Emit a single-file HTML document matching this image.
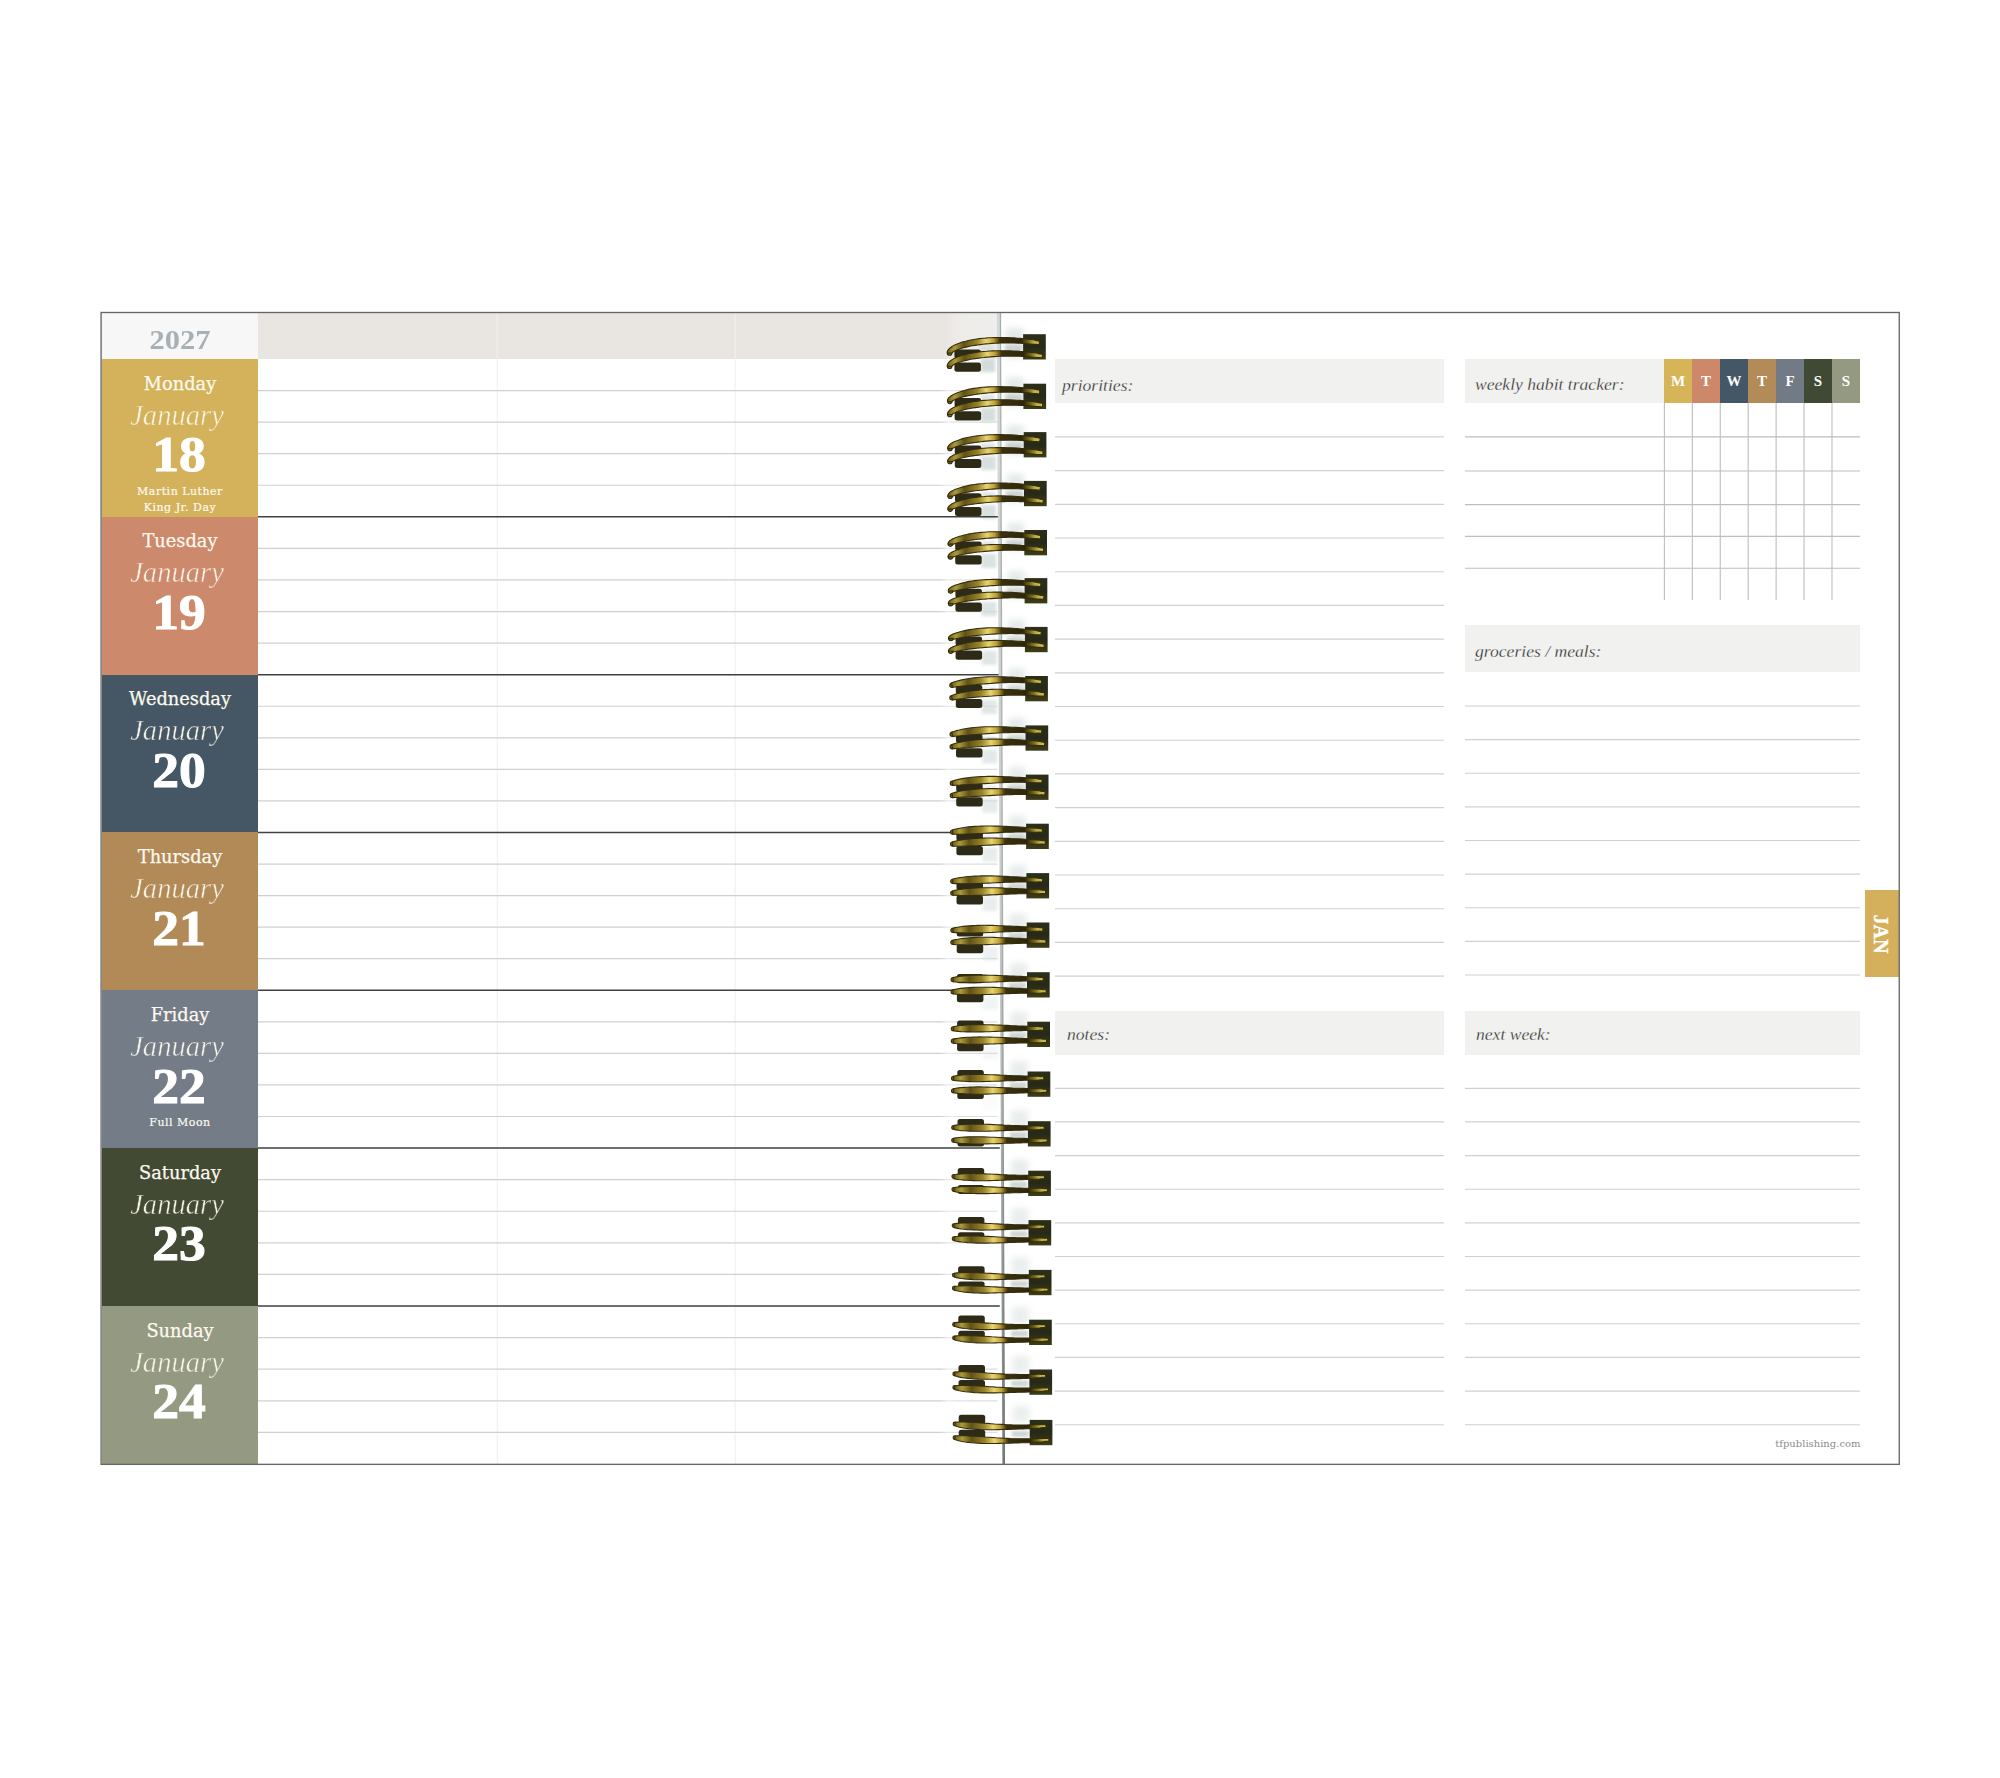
<!DOCTYPE html><html lang="en"><head><meta charset="utf-8"><title>Weekly planner spread - January 2027</title><style>
*{margin:0;padding:0;box-sizing:border-box}
html,body{width:2000px;height:1778px;background:#fff;overflow:hidden}
body{position:relative;font-family:"Liberation Serif","DejaVu Serif",serif}
#stage{position:absolute;left:0;top:0;width:2000px;height:1778px;overflow:hidden;background:#fff}
.abs{position:absolute}
.blk{position:absolute;left:102px;width:155.5px}
.t{position:absolute;left:0;width:156px;text-align:center;white-space:nowrap;color:#fff}
.dn{font-family:"DejaVu Serif","Liberation Serif",serif;font-size:17.8px;line-height:20px;color:#fdf9ee;-webkit-text-stroke:.25px #fdf9ee}
.mo{font-family:"Liberation Serif",serif;font-style:italic;font-size:28.6px;line-height:30px;color:#fdf9ee;opacity:.95}
.nu{font-family:"Liberation Serif",serif;font-weight:bold;font-size:51px;line-height:50px;-webkit-text-stroke:1px #fff}
.ho{font-family:"DejaVu Serif","Liberation Serif",serif;font-size:11px;line-height:12px;letter-spacing:.5px;color:#fdf9ee;-webkit-text-stroke:.2px #fdf9ee}
.hd{position:absolute;background:#f1f1ef}
.sc{position:absolute;font-family:"Liberation Serif",serif;font-style:italic;font-size:17.6px;line-height:20px;color:#1c1c1c;-webkit-text-stroke:.3px #f1f1ef;white-space:nowrap}
.hc{position:absolute;top:359px;height:44px;width:28px;color:#fff;font-weight:bold;font-size:15px;line-height:44px;text-align:center;font-family:"Liberation Serif",serif}
</style></head><body><div id="stage">
<div class="abs" style="left:102px;top:313px;width:155.5px;height:46px;background:#f7f7f7"></div>
<div class="abs" style="left:257.5px;top:313px;width:739px;height:46px;background:linear-gradient(90deg,#e9e6e1 0,#e9e6e1 93%,#eeece9 94.6%,#f0eeec 100%)"></div>
<div class="abs t" style="left:102px;top:323.5px;width:156px;font-weight:bold;font-size:26.8px;line-height:32px;color:#a7b1b5;transform:scaleX(1.14)">2027</div>
<div class="blk" style="top:359px;height:158px;background:#d4b25b">
<div class="t dn" style="top:14.6px">Monday</div>
<div class="t mo" style="left:-3px;top:41.6px;-webkit-text-stroke:.5px #d4b25b">January</div>
<div class="t nu" style="left:-1px;transform:scaleX(1.05);top:70.3px">18</div>
<div class="t ho" style="top:127.0px">Martin Luther</div>
<div class="t ho" style="top:143.0px">King Jr. Day</div>
</div>
<div class="blk" style="top:517px;height:158px;background:#cc896c">
<div class="t dn" style="top:14.4px">Tuesday</div>
<div class="t mo" style="left:-3px;top:41.4px;-webkit-text-stroke:.5px #cc896c">January</div>
<div class="t nu" style="left:-1px;transform:scaleX(1.05);top:70.1px">19</div>
</div>
<div class="blk" style="top:675px;height:157px;background:#455764">
<div class="t dn" style="top:14.3px">Wednesday</div>
<div class="t mo" style="left:-3px;top:41.3px;-webkit-text-stroke:.5px #455764">January</div>
<div class="t nu" style="left:-1px;transform:scaleX(1.05);top:70.0px">20</div>
</div>
<div class="blk" style="top:832px;height:158px;background:#b28a58">
<div class="t dn" style="top:15.1px">Thursday</div>
<div class="t mo" style="left:-3px;top:42.1px;-webkit-text-stroke:.5px #b28a58">January</div>
<div class="t nu" style="left:-1px;transform:scaleX(1.05);top:70.8px">21</div>
</div>
<div class="blk" style="top:990px;height:158px;background:#747c87">
<div class="t dn" style="top:14.8px">Friday</div>
<div class="t mo" style="left:-3px;top:41.8px;-webkit-text-stroke:.5px #747c87">January</div>
<div class="t nu" style="left:-1px;transform:scaleX(1.05);top:70.5px">22</div>
<div class="t ho" style="top:127.2px">Full Moon</div>
</div>
<div class="blk" style="top:1148px;height:158px;background:#424a34">
<div class="t dn" style="top:14.7px">Saturday</div>
<div class="t mo" style="left:-3px;top:41.7px;-webkit-text-stroke:.5px #424a34">January</div>
<div class="t nu" style="left:-1px;transform:scaleX(1.05);top:70.4px">23</div>
</div>
<div class="blk" style="top:1306px;height:158px;background:#949a82">
<div class="t dn" style="top:14.6px">Sunday</div>
<div class="t mo" style="left:-3px;top:41.6px;-webkit-text-stroke:.5px #949a82">January</div>
<div class="t nu" style="left:-1px;transform:scaleX(1.05);top:70.3px">24</div>
</div>
<div class="hd" style="left:1055px;top:359px;width:389px;height:44px"></div>
<div class="hd" style="left:1465px;top:359px;width:199px;height:44px"></div>
<div class="hd" style="left:1465px;top:625px;width:395px;height:47px"></div>
<div class="hd" style="left:1055px;top:1011px;width:389px;height:44px"></div>
<div class="hd" style="left:1465px;top:1011px;width:395px;height:44px"></div>
<div class="sc" style="left:1062px;top:375px">priorities:</div>
<div class="sc" style="left:1475px;top:374px">weekly habit tracker:</div>
<div class="sc" style="left:1475px;top:641px">groceries / meals:</div>
<div class="sc" style="left:1067px;top:1024px">notes:</div>
<div class="sc" style="left:1476px;top:1024px">next week:</div>
<div class="hc" style="left:1664px;background:#d6b458">M</div>
<div class="hc" style="left:1692px;background:#cd886a">T</div>
<div class="hc" style="left:1720px;background:#445766">W</div>
<div class="hc" style="left:1748px;background:#b38b58">T</div>
<div class="hc" style="left:1776px;background:#717a85">F</div>
<div class="hc" style="left:1804px;background:#404933">S</div>
<div class="hc" style="left:1832px;background:#949a82">S</div>
<div class="abs" style="left:1865px;top:890px;width:34px;height:87px;background:#d4b05c"></div>
<div class="abs" style="left:1839px;top:921.5px;width:84px;height:24px;line-height:24px;text-align:center;color:#fff;font-weight:bold;font-size:20px;-webkit-text-stroke:.3px #fff;transform:rotate(90deg);transform-origin:50% 50%">JAN</div>
<div class="abs" style="left:1700px;top:1437px;width:160.5px;text-align:right;font-family:'DejaVu Serif','Liberation Serif',serif;font-size:10px;line-height:14px;color:#8c8c8c">tfpublishing.com</div>
<svg class="abs" style="left:0;top:0" width="2000" height="1778" viewBox="0 0 2000 1778">
<defs>
<linearGradient id="gw" x1="0" y1="0" x2="1" y2="0">
<stop offset="0" stop-color="#6a5c1a"/><stop offset=".08" stop-color="#ad9a3a"/><stop offset=".18" stop-color="#5f5217"/>
<stop offset=".32" stop-color="#98832a"/><stop offset=".42" stop-color="#e8d570"/><stop offset=".5" stop-color="#bd9f35"/>
<stop offset=".57" stop-color="#3a310e"/><stop offset=".8" stop-color="#2c2609"/><stop offset=".88" stop-color="#78691c"/><stop offset=".94" stop-color="#bfad45"/><stop offset="1" stop-color="#d2c158"/>
</linearGradient>
<linearGradient id="gl" x1="0" y1="0" x2="1" y2="0"><stop offset="0" stop-color="#85751f"/><stop offset=".15" stop-color="#c3b044"/><stop offset=".3" stop-color="#8d7c24"/><stop offset=".55" stop-color="#a8952f"/><stop offset=".72" stop-color="#f0de78"/><stop offset=".88" stop-color="#c9aa3a"/><stop offset="1" stop-color="#5a4d16"/></linearGradient>
<linearGradient id="gs" x1="0" y1="0" x2="0" y2="1"><stop offset="0" stop-color="#2c301a"/><stop offset=".5" stop-color="#262917"/><stop offset="1" stop-color="#3d3d17"/></linearGradient>
<linearGradient id="fade" x1="0" y1="0" x2="1" y2="0"><stop offset="0" stop-color="#fff" stop-opacity="0"/><stop offset=".14" stop-color="#fff" stop-opacity=".55"/><stop offset=".3" stop-color="#fff" stop-opacity=".35"/><stop offset="1" stop-color="#fff" stop-opacity=".3"/></linearGradient>
<linearGradient id="cl1" x1="0" y1="0" x2="0" y2="1"><stop offset="0" stop-color="#d5dad9"/><stop offset=".5" stop-color="#c6cdcb"/><stop offset=".7" stop-color="#adb4b2"/><stop offset=".85" stop-color="#919795"/><stop offset="1" stop-color="#787e7c"/></linearGradient>
<linearGradient id="cl2" x1="0" y1="0" x2="0" y2="1"><stop offset="0" stop-color="#a6aeab"/><stop offset=".5" stop-color="#aab2af"/><stop offset=".8" stop-color="#878d8b"/><stop offset="1" stop-color="#6f7573"/></linearGradient>
<filter id="bl" x="-30%" y="-30%" width="160%" height="160%"><feGaussianBlur stdDeviation="1.6"/></filter>
<filter id="bl2" x="-30%" y="-30%" width="160%" height="160%"><feGaussianBlur stdDeviation="3"/></filter>
</defs>
<line x1="497.2" y1="313" x2="497.2" y2="1464" stroke="#f0f0f1" stroke-width="1.1"/>
<line x1="735.2" y1="313" x2="735.2" y2="1464" stroke="#f0f0f1" stroke-width="1.1"/>
<line x1="258" y1="390.56" x2="997.5" y2="390.56" stroke="#cfd0d3" stroke-width="1.2"/>
<line x1="258" y1="422.12" x2="997.5" y2="422.12" stroke="#cfd0d3" stroke-width="1.2"/>
<line x1="258" y1="453.68" x2="997.5" y2="453.68" stroke="#cfd0d3" stroke-width="1.2"/>
<line x1="258" y1="485.24" x2="997.5" y2="485.24" stroke="#cfd0d3" stroke-width="1.2"/>
<line x1="258" y1="548.38" x2="997.5" y2="548.38" stroke="#cfd0d3" stroke-width="1.2"/>
<line x1="258" y1="579.96" x2="997.5" y2="579.96" stroke="#cfd0d3" stroke-width="1.2"/>
<line x1="258" y1="611.54" x2="997.5" y2="611.54" stroke="#cfd0d3" stroke-width="1.2"/>
<line x1="258" y1="643.12" x2="997.5" y2="643.12" stroke="#cfd0d3" stroke-width="1.2"/>
<line x1="258" y1="706.26" x2="997.5" y2="706.26" stroke="#cfd0d3" stroke-width="1.2"/>
<line x1="258" y1="737.82" x2="997.5" y2="737.82" stroke="#cfd0d3" stroke-width="1.2"/>
<line x1="258" y1="769.38" x2="997.5" y2="769.38" stroke="#cfd0d3" stroke-width="1.2"/>
<line x1="258" y1="800.94" x2="997.5" y2="800.94" stroke="#cfd0d3" stroke-width="1.2"/>
<line x1="258" y1="864.04" x2="997.5" y2="864.04" stroke="#cfd0d3" stroke-width="1.2"/>
<line x1="258" y1="895.58" x2="997.5" y2="895.58" stroke="#cfd0d3" stroke-width="1.2"/>
<line x1="258" y1="927.12" x2="997.5" y2="927.12" stroke="#cfd0d3" stroke-width="1.2"/>
<line x1="258" y1="958.66" x2="997.5" y2="958.66" stroke="#cfd0d3" stroke-width="1.2"/>
<line x1="258" y1="1021.78" x2="997.5" y2="1021.78" stroke="#cfd0d3" stroke-width="1.2"/>
<line x1="258" y1="1053.36" x2="997.5" y2="1053.36" stroke="#cfd0d3" stroke-width="1.2"/>
<line x1="258" y1="1084.94" x2="997.5" y2="1084.94" stroke="#cfd0d3" stroke-width="1.2"/>
<line x1="258" y1="1116.52" x2="997.5" y2="1116.52" stroke="#cfd0d3" stroke-width="1.2"/>
<line x1="258" y1="1179.68" x2="997.5" y2="1179.68" stroke="#cfd0d3" stroke-width="1.2"/>
<line x1="258" y1="1211.26" x2="997.5" y2="1211.26" stroke="#cfd0d3" stroke-width="1.2"/>
<line x1="258" y1="1242.84" x2="997.5" y2="1242.84" stroke="#cfd0d3" stroke-width="1.2"/>
<line x1="258" y1="1274.42" x2="997.5" y2="1274.42" stroke="#cfd0d3" stroke-width="1.2"/>
<line x1="258" y1="1337.60" x2="997.5" y2="1337.60" stroke="#cfd0d3" stroke-width="1.2"/>
<line x1="258" y1="1369.20" x2="997.5" y2="1369.20" stroke="#cfd0d3" stroke-width="1.2"/>
<line x1="258" y1="1400.80" x2="997.5" y2="1400.80" stroke="#cfd0d3" stroke-width="1.2"/>
<line x1="258" y1="1432.40" x2="997.5" y2="1432.40" stroke="#cfd0d3" stroke-width="1.2"/>
<rect x="940" y="360" width="59" height="1103" fill="url(#fade)"/>
<line x1="1055" y1="436.90" x2="1444" y2="436.90" stroke="#cfd0d3" stroke-width="1.15"/>
<line x1="1055" y1="470.60" x2="1444" y2="470.60" stroke="#cfd0d3" stroke-width="1.15"/>
<line x1="1055" y1="504.30" x2="1444" y2="504.30" stroke="#cfd0d3" stroke-width="1.15"/>
<line x1="1055" y1="538.00" x2="1444" y2="538.00" stroke="#cfd0d3" stroke-width="1.15"/>
<line x1="1055" y1="571.70" x2="1444" y2="571.70" stroke="#cfd0d3" stroke-width="1.15"/>
<line x1="1055" y1="605.40" x2="1444" y2="605.40" stroke="#cfd0d3" stroke-width="1.15"/>
<line x1="1055" y1="639.10" x2="1444" y2="639.10" stroke="#cfd0d3" stroke-width="1.15"/>
<line x1="1055" y1="672.80" x2="1444" y2="672.80" stroke="#cfd0d3" stroke-width="1.15"/>
<line x1="1055" y1="706.50" x2="1444" y2="706.50" stroke="#cfd0d3" stroke-width="1.15"/>
<line x1="1055" y1="740.20" x2="1444" y2="740.20" stroke="#cfd0d3" stroke-width="1.15"/>
<line x1="1055" y1="773.90" x2="1444" y2="773.90" stroke="#cfd0d3" stroke-width="1.15"/>
<line x1="1055" y1="807.60" x2="1444" y2="807.60" stroke="#cfd0d3" stroke-width="1.15"/>
<line x1="1055" y1="841.30" x2="1444" y2="841.30" stroke="#cfd0d3" stroke-width="1.15"/>
<line x1="1055" y1="875.00" x2="1444" y2="875.00" stroke="#cfd0d3" stroke-width="1.15"/>
<line x1="1055" y1="908.70" x2="1444" y2="908.70" stroke="#cfd0d3" stroke-width="1.15"/>
<line x1="1055" y1="942.40" x2="1444" y2="942.40" stroke="#cfd0d3" stroke-width="1.15"/>
<line x1="1055" y1="976.10" x2="1444" y2="976.10" stroke="#cfd0d3" stroke-width="1.15"/>
<line x1="1055" y1="1088.30" x2="1444" y2="1088.30" stroke="#cfd0d3" stroke-width="1.15"/>
<line x1="1465" y1="1088.30" x2="1860" y2="1088.30" stroke="#cfd0d3" stroke-width="1.15"/>
<line x1="1055" y1="1121.94" x2="1444" y2="1121.94" stroke="#cfd0d3" stroke-width="1.15"/>
<line x1="1465" y1="1121.94" x2="1860" y2="1121.94" stroke="#cfd0d3" stroke-width="1.15"/>
<line x1="1055" y1="1155.58" x2="1444" y2="1155.58" stroke="#cfd0d3" stroke-width="1.15"/>
<line x1="1465" y1="1155.58" x2="1860" y2="1155.58" stroke="#cfd0d3" stroke-width="1.15"/>
<line x1="1055" y1="1189.22" x2="1444" y2="1189.22" stroke="#cfd0d3" stroke-width="1.15"/>
<line x1="1465" y1="1189.22" x2="1860" y2="1189.22" stroke="#cfd0d3" stroke-width="1.15"/>
<line x1="1055" y1="1222.86" x2="1444" y2="1222.86" stroke="#cfd0d3" stroke-width="1.15"/>
<line x1="1465" y1="1222.86" x2="1860" y2="1222.86" stroke="#cfd0d3" stroke-width="1.15"/>
<line x1="1055" y1="1256.50" x2="1444" y2="1256.50" stroke="#cfd0d3" stroke-width="1.15"/>
<line x1="1465" y1="1256.50" x2="1860" y2="1256.50" stroke="#cfd0d3" stroke-width="1.15"/>
<line x1="1055" y1="1290.14" x2="1444" y2="1290.14" stroke="#cfd0d3" stroke-width="1.15"/>
<line x1="1465" y1="1290.14" x2="1860" y2="1290.14" stroke="#cfd0d3" stroke-width="1.15"/>
<line x1="1055" y1="1323.78" x2="1444" y2="1323.78" stroke="#cfd0d3" stroke-width="1.15"/>
<line x1="1465" y1="1323.78" x2="1860" y2="1323.78" stroke="#cfd0d3" stroke-width="1.15"/>
<line x1="1055" y1="1357.42" x2="1444" y2="1357.42" stroke="#cfd0d3" stroke-width="1.15"/>
<line x1="1465" y1="1357.42" x2="1860" y2="1357.42" stroke="#cfd0d3" stroke-width="1.15"/>
<line x1="1055" y1="1391.06" x2="1444" y2="1391.06" stroke="#cfd0d3" stroke-width="1.15"/>
<line x1="1465" y1="1391.06" x2="1860" y2="1391.06" stroke="#cfd0d3" stroke-width="1.15"/>
<line x1="1055" y1="1424.70" x2="1444" y2="1424.70" stroke="#cfd0d3" stroke-width="1.15"/>
<line x1="1465" y1="1424.70" x2="1860" y2="1424.70" stroke="#cfd0d3" stroke-width="1.15"/>
<line x1="1465" y1="706.00" x2="1860" y2="706.00" stroke="#cfd0d3" stroke-width="1.15"/>
<line x1="1465" y1="739.62" x2="1860" y2="739.62" stroke="#cfd0d3" stroke-width="1.15"/>
<line x1="1465" y1="773.24" x2="1860" y2="773.24" stroke="#cfd0d3" stroke-width="1.15"/>
<line x1="1465" y1="806.86" x2="1860" y2="806.86" stroke="#cfd0d3" stroke-width="1.15"/>
<line x1="1465" y1="840.48" x2="1860" y2="840.48" stroke="#cfd0d3" stroke-width="1.15"/>
<line x1="1465" y1="874.10" x2="1860" y2="874.10" stroke="#cfd0d3" stroke-width="1.15"/>
<line x1="1465" y1="907.72" x2="1860" y2="907.72" stroke="#cfd0d3" stroke-width="1.15"/>
<line x1="1465" y1="941.34" x2="1860" y2="941.34" stroke="#cfd0d3" stroke-width="1.15"/>
<line x1="1465" y1="974.96" x2="1860" y2="974.96" stroke="#cfd0d3" stroke-width="1.15"/>
<line x1="1465" y1="436.90" x2="1860" y2="436.90" stroke="#bcbec2" stroke-width="1.1"/>
<line x1="1465" y1="471.00" x2="1860" y2="471.00" stroke="#bcbec2" stroke-width="1.1"/>
<line x1="1465" y1="504.60" x2="1860" y2="504.60" stroke="#bcbec2" stroke-width="1.1"/>
<line x1="1465" y1="536.40" x2="1860" y2="536.40" stroke="#bcbec2" stroke-width="1.1"/>
<line x1="1465" y1="568.30" x2="1860" y2="568.30" stroke="#bcbec2" stroke-width="1.1"/>
<line x1="1664.40" y1="403" x2="1664.40" y2="600" stroke="#bcbec2" stroke-width="1.1"/>
<line x1="1692.33" y1="403" x2="1692.33" y2="600" stroke="#bcbec2" stroke-width="1.1"/>
<line x1="1720.26" y1="403" x2="1720.26" y2="600" stroke="#bcbec2" stroke-width="1.1"/>
<line x1="1748.19" y1="403" x2="1748.19" y2="600" stroke="#bcbec2" stroke-width="1.1"/>
<line x1="1776.12" y1="403" x2="1776.12" y2="600" stroke="#bcbec2" stroke-width="1.1"/>
<line x1="1804.05" y1="403" x2="1804.05" y2="600" stroke="#bcbec2" stroke-width="1.1"/>
<line x1="1831.98" y1="403" x2="1831.98" y2="600" stroke="#bcbec2" stroke-width="1.1"/>
<rect x="980.4" y="358.2" width="15" height="14" fill="#cfd9d8" filter="url(#bl)" opacity="0.90"/>
<rect x="980.4" y="345.2" width="14" height="7" fill="#d5dddc" filter="url(#bl)" opacity="0.81"/>
<rect x="1006.1" y="328.2" width="17" height="30" fill="#dfe4e4" filter="url(#bl2)" opacity="0.85"/>
<rect x="1005.1" y="345.2" width="17" height="6" fill="#c6cecb" filter="url(#bl)" opacity=".85"/>
<rect x="980.6" y="407.7" width="15" height="14" fill="#cfd9d8" filter="url(#bl)" opacity="0.86"/>
<rect x="980.6" y="394.7" width="14" height="7" fill="#d5dddc" filter="url(#bl)" opacity="0.77"/>
<rect x="1006.4" y="377.5" width="17" height="29" fill="#dfe4e4" filter="url(#bl2)" opacity="0.84"/>
<rect x="1005.4" y="394.7" width="17" height="6" fill="#c6cecb" filter="url(#bl)" opacity=".85"/>
<rect x="980.8" y="456.1" width="15" height="14" fill="#cfd9d8" filter="url(#bl)" opacity="0.82"/>
<rect x="980.8" y="443.1" width="14" height="7" fill="#d5dddc" filter="url(#bl)" opacity="0.74"/>
<rect x="1006.7" y="425.7" width="17" height="29" fill="#dfe4e4" filter="url(#bl2)" opacity="0.83"/>
<rect x="1005.7" y="443.1" width="17" height="6" fill="#c6cecb" filter="url(#bl)" opacity=".85"/>
<rect x="981.0" y="504.9" width="15" height="14" fill="#cfd9d8" filter="url(#bl)" opacity="0.78"/>
<rect x="981.0" y="491.9" width="14" height="7" fill="#d5dddc" filter="url(#bl)" opacity="0.70"/>
<rect x="1007.0" y="474.4" width="17" height="28" fill="#dfe4e4" filter="url(#bl2)" opacity="0.82"/>
<rect x="1006.0" y="491.9" width="17" height="6" fill="#c6cecb" filter="url(#bl)" opacity=".85"/>
<rect x="981.2" y="554.0" width="15" height="14" fill="#cfd9d8" filter="url(#bl)" opacity="0.74"/>
<rect x="981.2" y="541.0" width="14" height="7" fill="#d5dddc" filter="url(#bl)" opacity="0.66"/>
<rect x="1007.3" y="523.3" width="17" height="27" fill="#dfe4e4" filter="url(#bl2)" opacity="0.80"/>
<rect x="1006.3" y="541.0" width="17" height="6" fill="#c6cecb" filter="url(#bl)" opacity=".85"/>
<rect x="981.4" y="602.1" width="15" height="14" fill="#cfd9d8" filter="url(#bl)" opacity="0.70"/>
<rect x="981.4" y="589.1" width="14" height="7" fill="#d5dddc" filter="url(#bl)" opacity="0.63"/>
<rect x="1007.6" y="571.2" width="17" height="27" fill="#dfe4e4" filter="url(#bl2)" opacity="0.79"/>
<rect x="1006.6" y="589.1" width="17" height="6" fill="#c6cecb" filter="url(#bl)" opacity=".85"/>
<rect x="981.6" y="650.9" width="15" height="14" fill="#cfd9d8" filter="url(#bl)" opacity="0.65"/>
<rect x="981.6" y="637.9" width="14" height="7" fill="#d5dddc" filter="url(#bl)" opacity="0.59"/>
<rect x="1007.9" y="619.8" width="17" height="26" fill="#dfe4e4" filter="url(#bl2)" opacity="0.78"/>
<rect x="1006.9" y="637.9" width="17" height="6" fill="#c6cecb" filter="url(#bl)" opacity=".85"/>
<rect x="981.8" y="700.0" width="15" height="14" fill="#cfd9d8" filter="url(#bl)" opacity="0.61"/>
<rect x="981.8" y="687.0" width="14" height="7" fill="#d5dddc" filter="url(#bl)" opacity="0.55"/>
<rect x="1008.2" y="668.7" width="17" height="26" fill="#dfe4e4" filter="url(#bl2)" opacity="0.77"/>
<rect x="1007.2" y="687.0" width="17" height="6" fill="#c6cecb" filter="url(#bl)" opacity=".85"/>
<rect x="982.0" y="749.4" width="15" height="14" fill="#cfd9d8" filter="url(#bl)" opacity="0.57"/>
<rect x="982.0" y="736.4" width="14" height="7" fill="#d5dddc" filter="url(#bl)" opacity="0.52"/>
<rect x="1008.5" y="717.9" width="17" height="25" fill="#dfe4e4" filter="url(#bl2)" opacity="0.76"/>
<rect x="1007.5" y="736.4" width="17" height="6" fill="#c6cecb" filter="url(#bl)" opacity=".85"/>
<rect x="982.2" y="798.6" width="15" height="14" fill="#cfd9d8" filter="url(#bl)" opacity="0.53"/>
<rect x="982.2" y="785.6" width="14" height="7" fill="#d5dddc" filter="url(#bl)" opacity="0.48"/>
<rect x="1008.8" y="767.0" width="17" height="24" fill="#dfe4e4" filter="url(#bl2)" opacity="0.75"/>
<rect x="1007.8" y="785.6" width="17" height="6" fill="#c6cecb" filter="url(#bl)" opacity=".85"/>
<rect x="982.4" y="847.7" width="15" height="14" fill="#cfd9d8" filter="url(#bl)" opacity="0.49"/>
<rect x="982.4" y="834.7" width="14" height="7" fill="#d5dddc" filter="url(#bl)" opacity="0.44"/>
<rect x="1009.1" y="815.9" width="17" height="24" fill="#dfe4e4" filter="url(#bl2)" opacity="0.74"/>
<rect x="1008.1" y="834.7" width="17" height="6" fill="#c6cecb" filter="url(#bl)" opacity=".85"/>
<rect x="982.5" y="897.1" width="15" height="14" fill="#cfd9d8" filter="url(#bl)" opacity="0.45"/>
<rect x="982.5" y="884.1" width="14" height="7" fill="#d5dddc" filter="url(#bl)" opacity="0.41"/>
<rect x="1009.4" y="865.1" width="17" height="23" fill="#dfe4e4" filter="url(#bl2)" opacity="0.72"/>
<rect x="1008.4" y="884.1" width="17" height="6" fill="#c6cecb" filter="url(#bl)" opacity=".85"/>
<rect x="982.7" y="946.5" width="15" height="14" fill="#cfd9d8" filter="url(#bl)" opacity="0.36"/>
<rect x="982.7" y="933.5" width="14" height="7" fill="#d5dddc" filter="url(#bl)" opacity="0.32"/>
<rect x="1009.7" y="914.0" width="17" height="22" fill="#dfe4e4" filter="url(#bl2)" opacity="0.71"/>
<rect x="1008.7" y="933.5" width="17" height="6" fill="#c6cecb" filter="url(#bl)" opacity=".85"/>
<rect x="982.9" y="996.2" width="15" height="14" fill="#cfd9d8" filter="url(#bl)" opacity="0.27"/>
<rect x="982.9" y="983.2" width="14" height="7" fill="#d5dddc" filter="url(#bl)" opacity="0.24"/>
<rect x="1010.0" y="963.1" width="17" height="22" fill="#dfe4e4" filter="url(#bl2)" opacity="0.70"/>
<rect x="1009.0" y="983.2" width="17" height="6" fill="#c6cecb" filter="url(#bl)" opacity=".85"/>
<rect x="983.1" y="1045.7" width="15" height="14" fill="#cfd9d8" filter="url(#bl)" opacity="0.18"/>
<rect x="983.1" y="1032.7" width="14" height="7" fill="#d5dddc" filter="url(#bl)" opacity="0.16"/>
<rect x="1010.3" y="1012.1" width="17" height="21" fill="#dfe4e4" filter="url(#bl2)" opacity="0.69"/>
<rect x="1009.3" y="1032.7" width="17" height="6" fill="#c6cecb" filter="url(#bl)" opacity=".85"/>
<rect x="983.3" y="1095.5" width="15" height="14" fill="#cfd9d8" filter="url(#bl)" opacity="0.09"/>
<rect x="983.3" y="1082.5" width="14" height="7" fill="#d5dddc" filter="url(#bl)" opacity="0.08"/>
<rect x="1010.6" y="1061.3" width="17" height="20" fill="#dfe4e4" filter="url(#bl2)" opacity="0.68"/>
<rect x="1009.6" y="1082.5" width="17" height="6" fill="#c6cecb" filter="url(#bl)" opacity=".85"/>
<rect x="1010.9" y="1110.5" width="17" height="20" fill="#dfe4e4" filter="url(#bl2)" opacity="0.67"/>
<rect x="1009.9" y="1132.2" width="17" height="6" fill="#c6cecb" filter="url(#bl)" opacity=".85"/>
<rect x="1011.2" y="1159.4" width="17" height="19" fill="#dfe4e4" filter="url(#bl2)" opacity="0.66"/>
<rect x="1010.2" y="1181.7" width="17" height="6" fill="#c6cecb" filter="url(#bl)" opacity=".85"/>
<rect x="1011.5" y="1208.3" width="17" height="19" fill="#dfe4e4" filter="url(#bl2)" opacity="0.65"/>
<rect x="1010.5" y="1231.1" width="17" height="6" fill="#c6cecb" filter="url(#bl)" opacity=".85"/>
<rect x="1011.8" y="1257.5" width="17" height="18" fill="#dfe4e4" filter="url(#bl2)" opacity="0.63"/>
<rect x="1010.8" y="1280.9" width="17" height="6" fill="#c6cecb" filter="url(#bl)" opacity=".85"/>
<rect x="1012.1" y="1306.8" width="17" height="17" fill="#dfe4e4" filter="url(#bl2)" opacity="0.62"/>
<rect x="1011.1" y="1330.7" width="17" height="6" fill="#c6cecb" filter="url(#bl)" opacity=".85"/>
<rect x="1012.4" y="1356.0" width="17" height="17" fill="#dfe4e4" filter="url(#bl2)" opacity="0.61"/>
<rect x="1011.4" y="1380.5" width="17" height="6" fill="#c6cecb" filter="url(#bl)" opacity=".85"/>
<rect x="1012.7" y="1405.9" width="17" height="16" fill="#dfe4e4" filter="url(#bl2)" opacity="0.60"/>
<rect x="1011.7" y="1430.9" width="17" height="6" fill="#c6cecb" filter="url(#bl)" opacity=".85"/>
<line x1="258" y1="516.80" x2="999.8" y2="516.80" stroke="#414141" stroke-width="1.5"/>
<line x1="258" y1="674.70" x2="999.8" y2="674.70" stroke="#414141" stroke-width="1.5"/>
<line x1="258" y1="832.50" x2="999.8" y2="832.50" stroke="#414141" stroke-width="1.5"/>
<line x1="258" y1="990.20" x2="999.8" y2="990.20" stroke="#414141" stroke-width="1.5"/>
<line x1="258" y1="1148.10" x2="999.8" y2="1148.10" stroke="#414141" stroke-width="1.5"/>
<line x1="258" y1="1306.00" x2="999.8" y2="1306.00" stroke="#414141" stroke-width="1.5"/>
<polygon points="996.8,313 1000.2,313 1004.6,1464 1002.4,1464" fill="url(#cl1)"/>
<polygon points="999.8,313 1001.1,313 1005.0,1464 1003.6,1464" fill="url(#cl2)"/>
<rect x="1023.1" y="334.2" width="22.7" height="25.3" fill="url(#gs)"/>
<rect x="954.4" y="349.4" width="26.5" height="9.2" rx="2.5" fill="#2e2a18"/>
<circle cx="949.6" cy="353.0" r="2.30" fill="#75661e" stroke="#352d0c" stroke-width="1.1"/>
<path d="M1039.6,341.1 L1036.5,340.7 L1033.5,339.8 L1030.4,339.4 L1027.2,339.1 L1024.0,338.7 L1020.7,338.4 L1017.5,338.2 L1014.3,337.9 L1011.0,337.8 L1007.7,337.6 L1004.5,337.5 L1001.3,337.5 L998.0,337.5 L994.9,337.6 L991.7,337.7 L988.6,337.8 L985.5,338.1 L982.5,338.3 L979.5,338.6 L976.6,339.0 L973.8,339.5 L971.0,340.0 L968.3,340.5 L965.8,341.2 L963.3,341.8 L960.9,342.6 L958.6,343.4 L956.4,344.2 L955.8,344.5 L955.2,344.8 L954.6,345.1 L954.1,345.3 L953.6,345.6 L953.1,345.9 L952.6,346.1 L952.1,346.4 L951.7,346.7 L951.3,347.0 L950.9,347.3 L950.5,347.5 L950.1,347.8 L949.8,348.1 L949.5,348.4 L949.2,348.7 L948.9,349.0 L948.6,349.3 L948.3,349.7 L948.1,350.0 L947.9,350.4 L947.7,350.7 L947.6,351.1 L947.4,351.5 L947.3,351.9 L947.3,352.4 L947.3,352.8 L947.3,353.1 L951.9,352.9 L951.9,352.8 L951.9,352.8 L951.9,352.9 L951.9,352.9 L952.0,352.9 L952.0,352.9 L952.0,352.8 L952.1,352.7 L952.2,352.6 L952.3,352.5 L952.4,352.4 L952.6,352.3 L952.7,352.1 L952.9,352.0 L953.2,351.8 L953.4,351.7 L953.7,351.5 L954.0,351.3 L954.3,351.1 L954.7,350.9 L955.1,350.7 L955.5,350.5 L955.9,350.4 L956.4,350.2 L956.8,350.0 L957.3,349.8 L957.9,349.5 L958.4,349.4 L960.4,348.7 L962.5,348.0 L964.8,347.4 L967.1,346.9 L969.6,346.3 L972.1,345.8 L974.8,345.4 L977.5,345.0 L980.3,344.6 L983.1,344.2 L986.0,343.9 L989.0,343.7 L992.0,343.4 L995.1,343.3 L998.2,343.1 L1001.3,343.0 L1004.5,342.9 L1007.7,342.9 L1010.8,342.9 L1014.0,343.0 L1017.2,343.1 L1020.4,343.3 L1023.6,343.5 L1026.7,343.7 L1029.8,344.0 L1032.9,344.4 L1036.0,344.4 L1039.0,344.9Z" fill="url(#gw)" stroke="#352d0c" stroke-width="1.1" stroke-linejoin="round"/>
<rect x="954.4" y="362.6" width="26.5" height="9.2" rx="2.5" fill="#2e2a18"/>
<circle cx="949.6" cy="366.2" r="2.30" fill="#75661e" stroke="#352d0c" stroke-width="1.1"/>
<path d="M1042.6,354.3 L1039.5,353.9 L1036.5,353.0 L1033.3,352.6 L1030.0,352.3 L1026.7,351.9 L1023.4,351.6 L1020.0,351.4 L1016.7,351.1 L1013.3,351.0 L1009.9,350.8 L1006.5,350.8 L1003.1,350.7 L999.7,350.7 L996.4,350.8 L993.1,350.9 L989.8,351.0 L986.6,351.3 L983.4,351.5 L980.3,351.8 L977.2,352.2 L974.3,352.7 L971.4,353.2 L968.6,353.7 L965.9,354.4 L963.4,355.0 L960.9,355.8 L958.6,356.6 L956.4,357.4 L955.8,357.7 L955.2,358.0 L954.6,358.3 L954.1,358.5 L953.6,358.8 L953.1,359.1 L952.6,359.4 L952.1,359.6 L951.7,359.9 L951.3,360.2 L950.9,360.5 L950.5,360.7 L950.1,361.0 L949.8,361.3 L949.5,361.6 L949.2,361.9 L948.9,362.2 L948.6,362.5 L948.3,362.9 L948.1,363.2 L947.9,363.6 L947.7,363.9 L947.6,364.3 L947.4,364.7 L947.3,365.1 L947.3,365.6 L947.3,366.0 L947.3,366.3 L951.9,366.1 L951.9,366.0 L951.9,366.0 L951.9,366.1 L951.9,366.1 L952.0,366.1 L952.0,366.1 L952.0,366.0 L952.1,365.9 L952.2,365.8 L952.3,365.7 L952.4,365.6 L952.6,365.5 L952.7,365.3 L952.9,365.2 L953.2,365.0 L953.4,364.9 L953.7,364.7 L954.0,364.5 L954.3,364.3 L954.7,364.1 L955.1,363.9 L955.5,363.7 L955.9,363.5 L956.4,363.3 L956.8,363.1 L957.3,362.9 L957.9,362.7 L958.4,362.6 L960.4,361.9 L962.6,361.2 L964.9,360.6 L967.3,360.1 L969.8,359.5 L972.5,359.0 L975.2,358.6 L978.1,358.2 L981.0,357.8 L984.0,357.5 L987.0,357.1 L990.2,356.9 L993.4,356.6 L996.6,356.5 L999.8,356.3 L1003.1,356.2 L1006.5,356.1 L1009.8,356.1 L1013.1,356.1 L1016.4,356.2 L1019.8,356.3 L1023.1,356.5 L1026.3,356.7 L1029.6,356.9 L1032.7,357.2 L1035.9,357.6 L1039.0,357.6 L1042.0,358.1Z" fill="url(#gw)" stroke="#352d0c" stroke-width="1.1" stroke-linejoin="round"/>
<rect x="1023.4" y="383.7" width="22.7" height="25.3" fill="url(#gs)"/>
<rect x="954.6" y="398.0" width="26.5" height="9.2" rx="2.5" fill="#2e2a18"/>
<circle cx="949.8" cy="401.3" r="2.28" fill="#75661e" stroke="#352d0c" stroke-width="1.1"/>
<path d="M1039.9,390.2 L1036.8,389.8 L1033.8,389.0 L1030.6,388.6 L1027.5,388.2 L1024.3,387.9 L1021.0,387.6 L1017.8,387.3 L1014.5,387.1 L1011.3,386.9 L1008.0,386.8 L1004.8,386.7 L1001.5,386.6 L998.3,386.6 L995.1,386.7 L992.0,386.7 L988.8,386.9 L985.8,387.1 L982.7,387.3 L979.8,387.6 L976.8,388.0 L974.0,388.4 L971.2,388.9 L968.6,389.4 L966.0,390.0 L963.5,390.7 L961.1,391.4 L958.8,392.2 L956.7,393.0 L956.0,393.3 L955.5,393.5 L954.9,393.8 L954.4,394.0 L953.8,394.3 L953.3,394.5 L952.9,394.8 L952.4,395.0 L952.0,395.3 L951.5,395.5 L951.1,395.8 L950.8,396.1 L950.4,396.3 L950.1,396.6 L949.7,396.9 L949.4,397.2 L949.1,397.4 L948.9,397.7 L948.6,398.1 L948.4,398.4 L948.1,398.7 L948.0,399.1 L947.8,399.5 L947.6,399.9 L947.5,400.3 L947.5,400.7 L947.5,401.1 L947.5,401.5 L952.1,401.2 L952.1,401.1 L952.1,401.2 L952.1,401.3 L952.1,401.3 L952.1,401.3 L952.1,401.3 L952.2,401.3 L952.2,401.2 L952.3,401.2 L952.4,401.1 L952.5,401.0 L952.7,400.9 L952.9,400.7 L953.1,400.6 L953.3,400.4 L953.5,400.3 L953.8,400.1 L954.1,400.0 L954.5,399.8 L954.8,399.6 L955.2,399.5 L955.6,399.3 L956.0,399.1 L956.5,398.9 L957.0,398.8 L957.5,398.6 L958.0,398.4 L958.5,398.2 L960.6,397.6 L962.7,397.0 L965.0,396.4 L967.3,395.9 L969.8,395.4 L972.3,394.9 L975.0,394.5 L977.7,394.1 L980.5,393.7 L983.3,393.4 L986.3,393.1 L989.2,392.8 L992.3,392.6 L995.3,392.4 L998.4,392.3 L1001.6,392.2 L1004.7,392.1 L1007.9,392.1 L1011.1,392.1 L1014.3,392.2 L1017.5,392.3 L1020.7,392.4 L1023.9,392.6 L1027.0,392.8 L1030.1,393.1 L1033.2,393.5 L1036.3,393.5 L1039.3,394.0Z" fill="url(#gw)" stroke="#352d0c" stroke-width="1.1" stroke-linejoin="round"/>
<rect x="954.6" y="411.3" width="26.5" height="9.2" rx="2.5" fill="#2e2a18"/>
<circle cx="949.8" cy="414.4" r="2.28" fill="#75661e" stroke="#352d0c" stroke-width="1.1"/>
<path d="M1042.9,403.3 L1039.8,402.9 L1036.7,402.1 L1033.5,401.7 L1030.3,401.3 L1027.0,401.0 L1023.7,400.7 L1020.3,400.4 L1016.9,400.2 L1013.5,400.0 L1010.1,399.9 L1006.7,399.8 L1003.3,399.7 L1000.0,399.7 L996.6,399.8 L993.3,399.8 L990.0,400.0 L986.8,400.2 L983.6,400.4 L980.5,400.7 L977.5,401.1 L974.5,401.5 L971.6,402.0 L968.8,402.5 L966.2,403.1 L963.6,403.8 L961.2,404.5 L958.8,405.3 L956.7,406.1 L956.0,406.4 L955.5,406.6 L954.9,406.9 L954.4,407.1 L953.8,407.4 L953.3,407.6 L952.9,407.9 L952.4,408.1 L952.0,408.4 L951.5,408.6 L951.1,408.9 L950.8,409.2 L950.4,409.4 L950.1,409.7 L949.7,410.0 L949.4,410.3 L949.1,410.6 L948.9,410.9 L948.6,411.2 L948.4,411.5 L948.1,411.8 L948.0,412.2 L947.8,412.6 L947.6,413.0 L947.5,413.4 L947.5,413.8 L947.5,414.2 L947.5,414.6 L952.1,414.3 L952.1,414.2 L952.1,414.3 L952.1,414.4 L952.1,414.4 L952.1,414.4 L952.1,414.4 L952.2,414.4 L952.2,414.3 L952.3,414.3 L952.4,414.2 L952.5,414.1 L952.7,414.0 L952.9,413.8 L953.1,413.7 L953.3,413.5 L953.5,413.4 L953.8,413.2 L954.1,413.1 L954.5,412.9 L954.8,412.7 L955.2,412.6 L955.6,412.4 L956.0,412.2 L956.5,412.0 L957.0,411.8 L957.5,411.7 L958.0,411.5 L958.5,411.3 L960.6,410.7 L962.7,410.1 L965.0,409.5 L967.5,409.0 L970.0,408.5 L972.7,408.0 L975.4,407.6 L978.3,407.2 L981.2,406.8 L984.2,406.5 L987.3,406.2 L990.4,405.9 L993.6,405.7 L996.8,405.5 L1000.1,405.4 L1003.4,405.3 L1006.7,405.2 L1010.0,405.2 L1013.4,405.2 L1016.7,405.2 L1020.0,405.4 L1023.3,405.5 L1026.6,405.7 L1029.8,405.9 L1033.0,406.2 L1036.2,406.6 L1039.3,406.6 L1042.3,407.1Z" fill="url(#gw)" stroke="#352d0c" stroke-width="1.1" stroke-linejoin="round"/>
<rect x="1023.7" y="432.1" width="22.7" height="25.3" fill="url(#gs)"/>
<rect x="954.8" y="445.5" width="26.5" height="9.2" rx="2.5" fill="#2e2a18"/>
<circle cx="950.0" cy="448.5" r="2.26" fill="#75661e" stroke="#352d0c" stroke-width="1.1"/>
<path d="M1040.2,438.3 L1037.1,437.8 L1034.1,437.0 L1030.9,436.6 L1027.8,436.3 L1024.5,435.9 L1021.3,435.6 L1018.1,435.4 L1014.8,435.1 L1011.5,434.9 L1008.3,434.8 L1005.0,434.7 L1001.8,434.6 L998.6,434.6 L995.4,434.6 L992.2,434.7 L989.1,434.8 L986.0,435.0 L983.0,435.2 L980.0,435.5 L977.1,435.9 L974.2,436.3 L971.5,436.7 L968.8,437.2 L966.2,437.8 L963.7,438.4 L961.3,439.1 L959.0,439.9 L956.9,440.7 L956.3,440.9 L955.7,441.1 L955.2,441.4 L954.6,441.6 L954.1,441.8 L953.6,442.1 L953.1,442.3 L952.7,442.5 L952.2,442.8 L951.8,443.0 L951.4,443.2 L951.0,443.5 L950.7,443.7 L950.3,444.0 L950.0,444.2 L949.7,444.5 L949.4,444.8 L949.1,445.1 L948.9,445.3 L948.6,445.7 L948.4,446.0 L948.2,446.3 L948.0,446.7 L947.9,447.1 L947.8,447.5 L947.7,447.9 L947.7,448.4 L947.7,448.7 L952.2,448.4 L952.3,448.4 L952.3,448.5 L952.3,448.6 L952.3,448.7 L952.3,448.7 L952.3,448.7 L952.3,448.7 L952.3,448.7 L952.4,448.6 L952.5,448.5 L952.6,448.4 L952.8,448.3 L953.0,448.2 L953.2,448.1 L953.4,448.0 L953.7,447.8 L953.9,447.7 L954.2,447.6 L954.6,447.4 L954.9,447.2 L955.3,447.1 L955.7,446.9 L956.2,446.8 L956.6,446.6 L957.1,446.5 L957.6,446.3 L958.1,446.1 L958.7,446.0 L960.7,445.4 L962.9,444.8 L965.1,444.3 L967.5,443.8 L970.0,443.3 L972.5,442.9 L975.2,442.5 L977.9,442.1 L980.7,441.7 L983.5,441.4 L986.5,441.1 L989.5,440.9 L992.5,440.7 L995.6,440.5 L998.7,440.3 L1001.8,440.2 L1005.0,440.2 L1008.2,440.1 L1011.4,440.1 L1014.6,440.2 L1017.8,440.3 L1021.0,440.4 L1024.2,440.6 L1027.3,440.9 L1030.4,441.1 L1033.5,441.5 L1036.6,441.5 L1039.6,441.9Z" fill="url(#gw)" stroke="#352d0c" stroke-width="1.1" stroke-linejoin="round"/>
<rect x="954.8" y="458.9" width="26.5" height="9.2" rx="2.5" fill="#2e2a18"/>
<circle cx="950.0" cy="461.5" r="2.26" fill="#75661e" stroke="#352d0c" stroke-width="1.1"/>
<path d="M1043.2,451.3 L1040.1,450.8 L1037.0,450.0 L1033.8,449.6 L1030.6,449.3 L1027.3,448.9 L1024.0,448.6 L1020.6,448.4 L1017.2,448.1 L1013.8,447.9 L1010.4,447.8 L1007.0,447.7 L1003.6,447.6 L1000.2,447.6 L996.9,447.6 L993.6,447.7 L990.3,447.8 L987.0,448.0 L983.9,448.2 L980.7,448.5 L977.7,448.9 L974.7,449.3 L971.8,449.7 L969.1,450.2 L966.4,450.8 L963.8,451.4 L961.4,452.1 L959.1,452.9 L956.9,453.7 L956.3,453.9 L955.7,454.1 L955.2,454.4 L954.6,454.6 L954.1,454.8 L953.6,455.1 L953.1,455.3 L952.7,455.5 L952.2,455.8 L951.8,456.0 L951.4,456.3 L951.0,456.5 L950.7,456.7 L950.3,457.0 L950.0,457.3 L949.7,457.5 L949.4,457.8 L949.1,458.1 L948.9,458.3 L948.6,458.7 L948.4,459.0 L948.2,459.3 L948.0,459.7 L947.9,460.1 L947.8,460.5 L947.7,460.9 L947.7,461.4 L947.7,461.7 L952.2,461.4 L952.3,461.4 L952.3,461.5 L952.3,461.6 L952.3,461.7 L952.3,461.7 L952.3,461.7 L952.3,461.7 L952.3,461.7 L952.4,461.6 L952.5,461.5 L952.6,461.4 L952.8,461.3 L953.0,461.2 L953.2,461.1 L953.4,461.0 L953.7,460.8 L953.9,460.7 L954.2,460.5 L954.6,460.4 L954.9,460.2 L955.3,460.1 L955.7,459.9 L956.2,459.8 L956.6,459.6 L957.1,459.4 L957.6,459.3 L958.1,459.1 L958.7,459.0 L960.7,458.3 L962.9,457.8 L965.2,457.3 L967.6,456.8 L970.2,456.3 L972.9,455.9 L975.6,455.5 L978.5,455.1 L981.4,454.7 L984.4,454.4 L987.5,454.1 L990.6,453.9 L993.8,453.7 L997.1,453.5 L1000.3,453.3 L1003.6,453.2 L1007.0,453.2 L1010.3,453.1 L1013.7,453.1 L1017.0,453.2 L1020.3,453.3 L1023.6,453.4 L1026.9,453.6 L1030.1,453.9 L1033.3,454.1 L1036.5,454.5 L1039.6,454.5 L1042.6,454.9Z" fill="url(#gw)" stroke="#352d0c" stroke-width="1.1" stroke-linejoin="round"/>
<rect x="1024.0" y="480.9" width="22.7" height="25.3" fill="url(#gs)"/>
<rect x="955.0" y="493.3" width="26.5" height="9.2" rx="2.5" fill="#2e2a18"/>
<circle cx="950.2" cy="496.2" r="2.25" fill="#75661e" stroke="#352d0c" stroke-width="1.1"/>
<path d="M1040.5,486.7 L1037.4,486.2 L1034.4,485.4 L1031.2,485.1 L1028.0,484.7 L1024.8,484.4 L1021.6,484.1 L1018.4,483.8 L1015.1,483.6 L1011.8,483.4 L1008.6,483.2 L1005.3,483.1 L1002.1,483.0 L998.8,483.0 L995.6,483.0 L992.5,483.1 L989.3,483.2 L986.2,483.3 L983.2,483.6 L980.2,483.8 L977.3,484.1 L974.5,484.5 L971.7,484.9 L969.0,485.4 L966.4,486.0 L963.9,486.6 L961.5,487.2 L959.3,488.0 L957.1,488.7 L956.6,488.9 L956.0,489.1 L955.4,489.3 L954.9,489.6 L954.4,489.8 L953.9,490.0 L953.4,490.2 L953.0,490.4 L952.5,490.7 L952.1,490.9 L951.7,491.1 L951.3,491.3 L951.0,491.6 L950.6,491.8 L950.3,492.0 L950.0,492.3 L949.7,492.5 L949.4,492.8 L949.2,493.0 L948.9,493.3 L948.7,493.6 L948.5,494.0 L948.3,494.3 L948.1,494.7 L948.0,495.1 L947.9,495.6 L947.9,496.0 L947.9,496.3 L952.4,496.0 L952.4,496.0 L952.5,496.2 L952.4,496.3 L952.4,496.4 L952.4,496.5 L952.4,496.5 L952.4,496.5 L952.5,496.5 L952.5,496.4 L952.6,496.4 L952.7,496.3 L952.9,496.2 L953.1,496.1 L953.3,496.0 L953.5,495.9 L953.8,495.8 L954.0,495.6 L954.4,495.5 L954.7,495.4 L955.0,495.3 L955.4,495.1 L955.8,495.0 L956.3,494.8 L956.7,494.7 L957.2,494.6 L957.7,494.4 L958.3,494.3 L958.8,494.1 L960.9,493.5 L963.1,493.0 L965.3,492.5 L967.7,492.1 L970.1,491.6 L972.7,491.2 L975.4,490.8 L978.1,490.5 L980.9,490.2 L983.8,489.9 L986.7,489.6 L989.7,489.3 L992.7,489.1 L995.8,488.9 L998.9,488.8 L1002.1,488.7 L1005.3,488.6 L1008.5,488.6 L1011.7,488.6 L1014.9,488.6 L1018.1,488.7 L1021.3,488.9 L1024.5,489.1 L1027.6,489.3 L1030.7,489.6 L1033.8,489.9 L1036.9,489.9 L1039.9,490.3Z" fill="url(#gw)" stroke="#352d0c" stroke-width="1.1" stroke-linejoin="round"/>
<rect x="955.0" y="506.9" width="26.5" height="9.2" rx="2.5" fill="#2e2a18"/>
<circle cx="950.2" cy="509.1" r="2.25" fill="#75661e" stroke="#352d0c" stroke-width="1.1"/>
<path d="M1043.5,499.6 L1040.4,499.1 L1037.3,498.3 L1034.1,498.0 L1030.9,497.6 L1027.6,497.3 L1024.2,497.0 L1020.9,496.7 L1017.5,496.5 L1014.1,496.3 L1010.7,496.1 L1007.3,496.0 L1003.9,495.9 L1000.5,495.9 L997.1,495.9 L993.8,496.0 L990.5,496.1 L987.3,496.2 L984.1,496.5 L981.0,496.7 L977.9,497.0 L975.0,497.4 L972.1,497.8 L969.3,498.3 L966.6,498.9 L964.0,499.5 L961.6,500.2 L959.3,500.9 L957.1,501.6 L956.6,501.8 L956.0,502.0 L955.4,502.3 L954.9,502.5 L954.4,502.7 L953.9,502.9 L953.4,503.1 L953.0,503.3 L952.5,503.6 L952.1,503.8 L951.7,504.0 L951.3,504.2 L951.0,504.5 L950.6,504.7 L950.3,504.9 L950.0,505.2 L949.7,505.4 L949.4,505.7 L949.2,505.9 L948.9,506.2 L948.7,506.5 L948.5,506.9 L948.3,507.2 L948.1,507.6 L948.0,508.0 L947.9,508.5 L947.9,508.9 L947.9,509.2 L952.4,508.9 L952.4,508.9 L952.4,509.1 L952.4,509.2 L952.4,509.3 L952.4,509.4 L952.4,509.4 L952.4,509.4 L952.5,509.4 L952.5,509.3 L952.6,509.3 L952.7,509.2 L952.9,509.1 L953.1,509.0 L953.3,508.9 L953.5,508.8 L953.8,508.7 L954.0,508.5 L954.3,508.4 L954.7,508.3 L955.0,508.1 L955.4,508.0 L955.8,507.9 L956.3,507.7 L956.7,507.6 L957.2,507.4 L957.7,507.3 L958.3,507.1 L958.8,507.0 L960.9,506.4 L963.1,505.9 L965.4,505.4 L967.8,505.0 L970.4,504.5 L973.0,504.1 L975.8,503.7 L978.7,503.4 L981.6,503.1 L984.6,502.8 L987.7,502.5 L990.9,502.2 L994.1,502.0 L997.3,501.9 L1000.6,501.7 L1003.9,501.6 L1007.2,501.5 L1010.6,501.5 L1013.9,501.5 L1017.3,501.5 L1020.6,501.6 L1023.9,501.8 L1027.2,501.9 L1030.4,502.2 L1033.6,502.5 L1036.8,502.8 L1039.9,502.8 L1042.9,503.2Z" fill="url(#gw)" stroke="#352d0c" stroke-width="1.1" stroke-linejoin="round"/>
<rect x="1024.3" y="530.0" width="22.7" height="25.3" fill="url(#gs)"/>
<rect x="955.2" y="541.5" width="26.5" height="9.2" rx="2.5" fill="#2e2a18"/>
<circle cx="950.4" cy="544.1" r="2.23" fill="#75661e" stroke="#352d0c" stroke-width="1.1"/>
<path d="M1040.8,535.4 L1037.7,535.0 L1034.7,534.2 L1031.5,533.8 L1028.3,533.4 L1025.1,533.1 L1021.9,532.8 L1018.6,532.6 L1015.4,532.3 L1012.1,532.1 L1008.8,532.0 L1005.6,531.8 L1002.3,531.7 L999.1,531.7 L995.9,531.7 L992.7,531.7 L989.6,531.8 L986.5,532.0 L983.4,532.2 L980.5,532.4 L977.5,532.7 L974.7,533.1 L971.9,533.5 L969.2,533.9 L966.7,534.5 L964.2,535.0 L961.8,535.7 L959.5,536.3 L957.4,537.1 L956.8,537.3 L956.2,537.5 L955.7,537.6 L955.2,537.8 L954.6,538.0 L954.2,538.2 L953.7,538.4 L953.2,538.6 L952.8,538.8 L952.4,539.1 L952.0,539.3 L951.6,539.5 L951.3,539.7 L950.9,539.9 L950.6,540.1 L950.3,540.3 L950.0,540.5 L949.7,540.8 L949.5,541.0 L949.2,541.3 L949.0,541.6 L948.7,541.9 L948.5,542.2 L948.4,542.6 L948.2,543.0 L948.1,543.5 L948.1,544.0 L948.2,544.3 L952.6,543.9 L952.6,543.9 L952.6,544.1 L952.6,544.3 L952.6,544.5 L952.5,544.6 L952.5,544.6 L952.5,544.6 L952.6,544.6 L952.6,544.6 L952.7,544.5 L952.8,544.5 L953.0,544.4 L953.2,544.3 L953.4,544.2 L953.6,544.1 L953.9,544.0 L954.1,543.9 L954.5,543.8 L954.8,543.7 L955.2,543.6 L955.5,543.4 L956.0,543.3 L956.4,543.2 L956.9,543.1 L957.3,542.9 L957.8,542.8 L958.4,542.7 L959.0,542.6 L961.1,542.0 L963.2,541.6 L965.5,541.1 L967.9,540.7 L970.3,540.3 L972.9,539.9 L975.6,539.5 L978.3,539.2 L981.1,538.9 L984.0,538.6 L986.9,538.3 L989.9,538.1 L993.0,537.9 L996.1,537.7 L999.2,537.6 L1002.3,537.5 L1005.5,537.4 L1008.7,537.3 L1011.9,537.3 L1015.1,537.4 L1018.4,537.5 L1021.6,537.6 L1024.7,537.8 L1027.9,538.0 L1031.0,538.3 L1034.1,538.6 L1037.2,538.6 L1040.2,539.0Z" fill="url(#gw)" stroke="#352d0c" stroke-width="1.1" stroke-linejoin="round"/>
<rect x="955.2" y="555.2" width="26.5" height="9.2" rx="2.5" fill="#2e2a18"/>
<circle cx="950.4" cy="556.9" r="2.23" fill="#75661e" stroke="#352d0c" stroke-width="1.1"/>
<path d="M1043.8,548.2 L1040.7,547.8 L1037.6,547.0 L1034.4,546.6 L1031.2,546.3 L1027.9,545.9 L1024.5,545.6 L1021.2,545.4 L1017.8,545.1 L1014.4,544.9 L1011.0,544.8 L1007.5,544.6 L1004.1,544.5 L1000.7,544.5 L997.4,544.5 L994.1,544.5 L990.8,544.6 L987.5,544.8 L984.3,545.0 L981.2,545.2 L978.2,545.5 L975.2,545.9 L972.3,546.3 L969.5,546.7 L966.8,547.3 L964.3,547.8 L961.8,548.5 L959.5,549.2 L957.4,549.9 L956.8,550.1 L956.3,550.3 L955.7,550.5 L955.2,550.7 L954.7,550.9 L954.2,551.1 L953.7,551.3 L953.2,551.5 L952.8,551.7 L952.4,551.9 L952.0,552.1 L951.6,552.3 L951.3,552.5 L950.9,552.7 L950.6,552.9 L950.3,553.1 L950.0,553.3 L949.7,553.6 L949.5,553.8 L949.2,554.1 L949.0,554.4 L948.7,554.7 L948.5,555.0 L948.4,555.4 L948.2,555.8 L948.1,556.3 L948.1,556.8 L948.2,557.1 L952.6,556.7 L952.6,556.7 L952.6,556.9 L952.6,557.1 L952.6,557.3 L952.5,557.4 L952.5,557.4 L952.5,557.4 L952.6,557.4 L952.6,557.4 L952.7,557.3 L952.8,557.3 L953.0,557.2 L953.2,557.1 L953.4,557.0 L953.6,556.9 L953.9,556.8 L954.1,556.7 L954.5,556.6 L954.8,556.5 L955.2,556.3 L955.5,556.2 L956.0,556.1 L956.4,556.0 L956.8,555.9 L957.3,555.7 L957.8,555.6 L958.4,555.5 L959.0,555.3 L961.1,554.8 L963.3,554.3 L965.6,553.9 L968.0,553.5 L970.6,553.1 L973.2,552.7 L976.0,552.3 L978.9,552.0 L981.8,551.7 L984.8,551.4 L987.9,551.1 L991.1,550.9 L994.3,550.7 L997.5,550.5 L1000.8,550.4 L1004.2,550.3 L1007.5,550.2 L1010.9,550.1 L1014.2,550.1 L1017.6,550.2 L1020.9,550.3 L1024.2,550.4 L1027.5,550.6 L1030.7,550.8 L1034.0,551.1 L1037.1,551.4 L1040.2,551.4 L1043.2,551.8Z" fill="url(#gw)" stroke="#352d0c" stroke-width="1.1" stroke-linejoin="round"/>
<rect x="1024.6" y="578.1" width="22.7" height="25.3" fill="url(#gs)"/>
<rect x="955.4" y="588.7" width="26.5" height="9.2" rx="2.5" fill="#2e2a18"/>
<circle cx="950.6" cy="591.0" r="2.21" fill="#75661e" stroke="#352d0c" stroke-width="1.1"/>
<path d="M1041.0,583.1 L1038.0,582.7 L1035.0,581.9 L1031.8,581.5 L1028.6,581.2 L1025.4,580.9 L1022.2,580.6 L1018.9,580.3 L1015.6,580.1 L1012.4,579.9 L1009.1,579.7 L1005.8,579.6 L1002.6,579.5 L999.3,579.4 L996.1,579.4 L993.0,579.4 L989.8,579.5 L986.7,579.6 L983.7,579.8 L980.7,580.0 L977.8,580.3 L974.9,580.6 L972.2,581.0 L969.5,581.4 L966.9,581.9 L964.4,582.5 L962.0,583.1 L959.7,583.7 L957.6,584.4 L957.1,584.6 L956.5,584.8 L956.0,585.0 L955.4,585.1 L954.9,585.3 L954.4,585.5 L954.0,585.7 L953.5,585.9 L953.1,586.0 L952.7,586.2 L952.3,586.4 L951.9,586.6 L951.6,586.8 L951.2,587.0 L950.9,587.2 L950.6,587.4 L950.3,587.6 L950.0,587.8 L949.8,588.0 L949.5,588.2 L949.3,588.5 L949.0,588.8 L948.8,589.1 L948.6,589.5 L948.5,589.9 L948.4,590.4 L948.3,590.9 L948.4,591.2 L952.8,590.8 L952.8,590.9 L952.8,591.1 L952.8,591.3 L952.7,591.5 L952.6,591.6 L952.6,591.7 L952.6,591.8 L952.6,591.8 L952.7,591.7 L952.8,591.7 L952.9,591.6 L953.1,591.6 L953.2,591.5 L953.4,591.4 L953.7,591.3 L953.9,591.2 L954.2,591.1 L954.5,591.1 L954.9,591.0 L955.3,590.9 L955.6,590.8 L956.1,590.7 L956.5,590.5 L957.0,590.4 L957.5,590.3 L958.0,590.2 L958.5,590.1 L959.1,590.0 L961.2,589.5 L963.4,589.1 L965.7,588.7 L968.0,588.3 L970.5,587.9 L973.1,587.6 L975.7,587.2 L978.5,586.9 L981.3,586.6 L984.2,586.3 L987.1,586.1 L990.1,585.8 L993.2,585.6 L996.3,585.5 L999.4,585.3 L1002.6,585.2 L1005.8,585.1 L1009.0,585.1 L1012.2,585.1 L1015.4,585.1 L1018.6,585.2 L1021.9,585.3 L1025.0,585.5 L1028.2,585.7 L1031.3,586.0 L1034.4,586.3 L1037.5,586.3 L1040.6,586.7Z" fill="url(#gw)" stroke="#352d0c" stroke-width="1.1" stroke-linejoin="round"/>
<rect x="955.4" y="602.6" width="26.5" height="9.2" rx="2.5" fill="#2e2a18"/>
<circle cx="950.6" cy="603.7" r="2.21" fill="#75661e" stroke="#352d0c" stroke-width="1.1"/>
<path d="M1044.0,595.8 L1041.0,595.4 L1037.9,594.6 L1034.7,594.3 L1031.4,593.9 L1028.1,593.6 L1024.8,593.3 L1021.4,593.0 L1018.0,592.8 L1014.6,592.6 L1011.2,592.4 L1007.8,592.3 L1004.4,592.2 L1001.0,592.1 L997.6,592.1 L994.3,592.1 L991.0,592.2 L987.8,592.3 L984.6,592.5 L981.4,592.7 L978.4,593.0 L975.4,593.3 L972.5,593.7 L969.7,594.2 L967.1,594.7 L964.5,595.2 L962.1,595.8 L959.7,596.5 L957.6,597.2 L957.1,597.3 L956.5,597.5 L956.0,597.7 L955.4,597.9 L954.9,598.1 L954.4,598.2 L954.0,598.4 L953.5,598.6 L953.1,598.8 L952.7,599.0 L952.3,599.2 L951.9,599.3 L951.6,599.5 L951.2,599.7 L950.9,599.9 L950.6,600.1 L950.3,600.3 L950.0,600.5 L949.8,600.7 L949.5,601.0 L949.3,601.2 L949.0,601.5 L948.8,601.9 L948.6,602.2 L948.5,602.6 L948.4,603.1 L948.3,603.6 L948.4,603.9 L952.8,603.5 L952.8,603.6 L952.8,603.9 L952.8,604.1 L952.7,604.3 L952.6,604.4 L952.6,604.4 L952.6,604.5 L952.6,604.5 L952.7,604.5 L952.8,604.4 L952.9,604.4 L953.1,604.3 L953.2,604.2 L953.4,604.1 L953.7,604.1 L953.9,604.0 L954.2,603.9 L954.5,603.8 L954.9,603.7 L955.3,603.6 L955.6,603.5 L956.1,603.4 L956.5,603.3 L957.0,603.2 L957.4,603.1 L958.0,603.0 L958.5,602.8 L959.1,602.7 L961.2,602.2 L963.4,601.8 L965.7,601.4 L968.2,601.0 L970.7,600.6 L973.4,600.3 L976.2,600.0 L979.1,599.6 L982.0,599.3 L985.1,599.1 L988.2,598.8 L991.3,598.6 L994.5,598.4 L997.8,598.2 L1001.1,598.1 L1004.4,597.9 L1007.8,597.9 L1011.1,597.8 L1014.5,597.8 L1017.8,597.9 L1021.2,597.9 L1024.5,598.1 L1027.8,598.2 L1031.0,598.4 L1034.3,598.7 L1037.4,599.0 L1040.5,599.0 L1043.6,599.4Z" fill="url(#gw)" stroke="#352d0c" stroke-width="1.1" stroke-linejoin="round"/>
<rect x="1024.9" y="626.9" width="22.7" height="25.3" fill="url(#gs)"/>
<rect x="955.6" y="636.6" width="26.5" height="9.2" rx="2.5" fill="#2e2a18"/>
<circle cx="950.8" cy="638.6" r="2.19" fill="#75661e" stroke="#352d0c" stroke-width="1.1"/>
<path d="M1041.3,631.5 L1038.3,631.1 L1035.2,630.3 L1032.1,630.0 L1028.9,629.6 L1025.7,629.3 L1022.5,629.0 L1019.2,628.8 L1015.9,628.5 L1012.6,628.3 L1009.4,628.1 L1006.1,628.0 L1002.8,627.9 L999.6,627.8 L996.4,627.8 L993.2,627.8 L990.1,627.8 L987.0,627.9 L983.9,628.1 L980.9,628.3 L978.0,628.5 L975.2,628.9 L972.4,629.2 L969.7,629.6 L967.1,630.1 L964.6,630.6 L962.2,631.2 L960.0,631.8 L957.9,632.5 L957.4,632.6 L956.8,632.8 L956.3,633.0 L955.7,633.1 L955.2,633.3 L954.7,633.5 L954.3,633.6 L953.8,633.8 L953.4,633.9 L953.0,634.1 L952.6,634.3 L952.2,634.4 L951.9,634.6 L951.6,634.8 L951.2,634.9 L950.9,635.1 L950.6,635.3 L950.4,635.5 L950.1,635.7 L949.8,635.9 L949.6,636.1 L949.3,636.4 L949.1,636.7 L948.9,637.1 L948.7,637.5 L948.6,638.0 L948.5,638.5 L948.6,638.8 L953.0,638.4 L953.0,638.5 L953.0,638.8 L952.9,639.1 L952.8,639.3 L952.7,639.5 L952.7,639.5 L952.7,639.6 L952.7,639.6 L952.8,639.6 L952.8,639.5 L953.0,639.5 L953.1,639.4 L953.3,639.4 L953.5,639.3 L953.8,639.2 L954.0,639.2 L954.3,639.1 L954.6,639.0 L955.0,638.9 L955.4,638.8 L955.7,638.8 L956.2,638.7 L956.6,638.6 L957.1,638.5 L957.6,638.4 L958.1,638.3 L958.6,638.3 L959.3,638.1 L961.4,637.7 L963.6,637.3 L965.8,636.9 L968.2,636.6 L970.7,636.2 L973.3,635.9 L975.9,635.6 L978.7,635.3 L981.5,635.0 L984.4,634.8 L987.4,634.5 L990.4,634.3 L993.4,634.1 L996.5,633.9 L999.7,633.8 L1002.8,633.7 L1006.0,633.6 L1009.3,633.5 L1012.5,633.5 L1015.7,633.6 L1018.9,633.6 L1022.1,633.8 L1025.3,633.9 L1028.5,634.1 L1031.6,634.4 L1034.7,634.7 L1037.8,634.7 L1040.9,635.1Z" fill="url(#gw)" stroke="#352d0c" stroke-width="1.1" stroke-linejoin="round"/>
<rect x="955.6" y="650.6" width="26.5" height="9.2" rx="2.5" fill="#2e2a18"/>
<circle cx="950.8" cy="651.3" r="2.19" fill="#75661e" stroke="#352d0c" stroke-width="1.1"/>
<path d="M1044.3,644.2 L1041.3,643.8 L1038.2,643.0 L1035.0,642.7 L1031.7,642.3 L1028.4,642.0 L1025.1,641.7 L1021.7,641.4 L1018.3,641.2 L1014.9,641.0 L1011.5,640.8 L1008.1,640.7 L1004.7,640.5 L1001.3,640.5 L997.9,640.4 L994.6,640.4 L991.3,640.5 L988.0,640.6 L984.8,640.8 L981.7,641.0 L978.6,641.2 L975.6,641.5 L972.8,641.9 L970.0,642.3 L967.3,642.8 L964.7,643.3 L962.3,643.9 L960.0,644.5 L957.9,645.2 L957.4,645.3 L956.8,645.5 L956.3,645.6 L955.7,645.8 L955.2,646.0 L954.7,646.1 L954.3,646.3 L953.8,646.5 L953.4,646.6 L953.0,646.8 L952.6,646.9 L952.2,647.1 L951.9,647.3 L951.6,647.4 L951.2,647.6 L950.9,647.8 L950.6,648.0 L950.4,648.2 L950.1,648.4 L949.8,648.6 L949.6,648.8 L949.3,649.1 L949.1,649.4 L948.9,649.7 L948.7,650.2 L948.6,650.7 L948.5,651.2 L948.6,651.5 L953.0,651.0 L953.0,651.2 L953.0,651.5 L952.9,651.8 L952.8,652.0 L952.7,652.1 L952.7,652.2 L952.7,652.2 L952.7,652.3 L952.8,652.2 L952.8,652.2 L953.0,652.2 L953.1,652.1 L953.3,652.0 L953.5,652.0 L953.8,651.9 L954.0,651.8 L954.3,651.7 L954.6,651.7 L955.0,651.6 L955.3,651.5 L955.7,651.4 L956.2,651.3 L956.6,651.3 L957.1,651.2 L957.6,651.1 L958.1,651.0 L958.6,650.9 L959.3,650.8 L961.4,650.4 L963.6,650.0 L965.9,649.6 L968.4,649.2 L970.9,648.9 L973.6,648.6 L976.4,648.3 L979.3,648.0 L982.2,647.7 L985.3,647.4 L988.4,647.2 L991.5,647.0 L994.8,646.8 L998.0,646.6 L1001.3,646.5 L1004.7,646.3 L1008.0,646.3 L1011.4,646.2 L1014.8,646.2 L1018.1,646.2 L1021.5,646.3 L1024.8,646.4 L1028.1,646.6 L1031.3,646.8 L1034.6,647.0 L1037.7,647.4 L1040.8,647.3 L1043.9,647.7Z" fill="url(#gw)" stroke="#352d0c" stroke-width="1.1" stroke-linejoin="round"/>
<rect x="1025.2" y="676.0" width="22.7" height="25.3" fill="url(#gs)"/>
<rect x="955.8" y="684.8" width="26.5" height="9.2" rx="2.5" fill="#2e2a18"/>
<circle cx="952.0" cy="685.2" r="2.17" fill="#75661e" stroke="#352d0c" stroke-width="1.1"/>
<path d="M1041.6,680.2 L1038.6,679.8 L1035.5,679.1 L1032.2,678.7 L1029.0,678.4 L1025.6,678.1 L1022.2,677.8 L1018.8,677.6 L1015.3,677.3 L1011.8,677.1 L1008.3,677.0 L1004.8,676.9 L1001.3,676.8 L997.8,676.7 L994.3,676.7 L990.8,676.8 L987.3,676.9 L983.9,677.0 L980.5,677.2 L977.2,677.5 L974.0,677.9 L970.8,678.3 L967.7,678.7 L964.7,679.3 L961.8,679.9 L959.0,680.6 L956.3,681.3 L953.8,682.1 L951.4,683.1 L952.5,687.3 L955.0,687.0 L957.5,686.6 L960.1,686.3 L962.8,686.0 L965.7,685.7 L968.6,685.3 L971.6,685.0 L974.7,684.7 L977.9,684.4 L981.1,684.1 L984.4,683.9 L987.7,683.6 L991.1,683.4 L994.5,683.1 L997.9,682.9 L1001.3,682.8 L1004.8,682.6 L1008.3,682.5 L1011.7,682.5 L1015.2,682.5 L1018.6,682.5 L1022.0,682.6 L1025.3,682.7 L1028.6,682.9 L1031.8,683.1 L1035.0,683.4 L1038.1,683.4 L1041.2,683.8Z" fill="url(#gw)" stroke="#352d0c" stroke-width="1.1" stroke-linejoin="round"/>
<rect x="955.8" y="698.9" width="26.5" height="9.2" rx="2.5" fill="#2e2a18"/>
<circle cx="952.0" cy="697.8" r="2.17" fill="#75661e" stroke="#352d0c" stroke-width="1.1"/>
<path d="M1044.6,692.8 L1041.6,692.4 L1038.4,691.7 L1035.1,691.3 L1031.8,691.0 L1028.4,690.7 L1024.9,690.4 L1021.3,690.2 L1017.7,689.9 L1014.1,689.7 L1010.4,689.6 L1006.8,689.5 L1003.1,689.4 L999.4,689.3 L995.8,689.3 L992.1,689.4 L988.5,689.5 L984.9,689.6 L981.4,689.8 L978.0,690.1 L974.6,690.5 L971.3,690.9 L968.1,691.3 L965.0,691.9 L962.0,692.5 L959.1,693.2 L956.4,693.9 L953.8,694.7 L951.4,695.7 L952.5,699.9 L955.0,699.6 L957.5,699.2 L960.2,698.9 L963.0,698.6 L965.9,698.2 L968.9,697.9 L972.1,697.6 L975.3,697.3 L978.6,697.0 L981.9,696.8 L985.4,696.5 L988.9,696.2 L992.4,696.0 L996.0,695.7 L999.6,695.5 L1003.2,695.4 L1006.8,695.2 L1010.4,695.1 L1014.0,695.1 L1017.6,695.1 L1021.1,695.1 L1024.6,695.2 L1028.1,695.3 L1031.4,695.5 L1034.7,695.7 L1038.0,696.0 L1041.1,696.0 L1044.2,696.4Z" fill="url(#gw)" stroke="#352d0c" stroke-width="1.1" stroke-linejoin="round"/>
<rect x="1025.5" y="725.4" width="22.7" height="25.3" fill="url(#gs)"/>
<rect x="956.0" y="733.9" width="26.5" height="9.2" rx="2.5" fill="#2e2a18"/>
<circle cx="952.2" cy="734.3" r="2.15" fill="#75661e" stroke="#352d0c" stroke-width="1.1"/>
<path d="M1041.9,730.0 L1038.8,729.6 L1035.7,728.9 L1032.5,728.6 L1029.2,728.3 L1025.9,728.1 L1022.5,727.8 L1019.1,727.6 L1015.6,727.4 L1012.1,727.2 L1008.6,727.0 L1005.1,726.9 L1001.5,726.8 L998.0,726.7 L994.5,726.7 L991.0,726.7 L987.6,726.7 L984.2,726.8 L980.8,727.0 L977.5,727.2 L974.2,727.5 L971.1,727.9 L968.0,728.3 L965.0,728.8 L962.1,729.3 L959.3,730.0 L956.6,730.6 L954.1,731.4 L951.7,732.2 L952.6,736.4 L955.1,736.2 L957.6,736.0 L960.2,735.8 L963.0,735.5 L965.8,735.3 L968.7,735.1 L971.8,734.8 L974.9,734.6 L978.0,734.3 L981.3,734.1 L984.6,733.9 L987.9,733.6 L991.3,733.4 L994.7,733.2 L998.1,733.0 L1001.6,732.8 L1005.1,732.7 L1008.5,732.6 L1012.0,732.5 L1015.4,732.5 L1018.9,732.5 L1022.3,732.5 L1025.6,732.6 L1028.9,732.8 L1032.2,733.0 L1035.3,733.2 L1038.5,733.1 L1041.5,733.4Z" fill="url(#gw)" stroke="#352d0c" stroke-width="1.1" stroke-linejoin="round"/>
<rect x="956.0" y="748.2" width="26.5" height="9.2" rx="2.5" fill="#2e2a18"/>
<circle cx="952.2" cy="746.7" r="2.15" fill="#75661e" stroke="#352d0c" stroke-width="1.1"/>
<path d="M1044.9,742.4 L1041.8,742.0 L1038.7,741.3 L1035.4,741.0 L1032.0,740.7 L1028.6,740.5 L1025.1,740.2 L1021.6,740.0 L1018.0,739.8 L1014.4,739.6 L1010.7,739.4 L1007.0,739.3 L1003.4,739.2 L999.7,739.1 L996.0,739.1 L992.4,739.1 L988.8,739.1 L985.2,739.2 L981.7,739.4 L978.2,739.6 L974.8,739.9 L971.5,740.3 L968.3,740.7 L965.2,741.2 L962.2,741.8 L959.4,742.4 L956.7,743.0 L954.1,743.8 L951.7,744.6 L952.6,748.8 L955.1,748.6 L957.6,748.4 L960.3,748.2 L963.1,747.9 L966.0,747.7 L969.1,747.5 L972.2,747.2 L975.4,747.0 L978.8,746.7 L982.1,746.5 L985.6,746.3 L989.1,746.0 L992.6,745.8 L996.2,745.6 L999.8,745.4 L1003.4,745.2 L1007.0,745.1 L1010.7,745.0 L1014.3,744.9 L1017.9,744.9 L1021.4,744.9 L1024.9,744.9 L1028.4,745.0 L1031.8,745.2 L1035.1,745.4 L1038.3,745.6 L1041.5,745.5 L1044.5,745.8Z" fill="url(#gw)" stroke="#352d0c" stroke-width="1.1" stroke-linejoin="round"/>
<rect x="1025.8" y="774.6" width="22.7" height="25.3" fill="url(#gs)"/>
<rect x="956.2" y="782.9" width="26.5" height="9.2" rx="2.5" fill="#2e2a18"/>
<circle cx="952.4" cy="783.3" r="2.14" fill="#75661e" stroke="#352d0c" stroke-width="1.1"/>
<path d="M1042.2,779.5 L1039.1,779.2 L1036.0,778.5 L1032.8,778.3 L1029.5,778.1 L1026.1,777.8 L1022.8,777.6 L1019.3,777.4 L1015.9,777.2 L1012.4,777.0 L1008.9,776.8 L1005.3,776.7 L1001.8,776.6 L998.3,776.5 L994.8,776.4 L991.3,776.4 L987.8,776.4 L984.4,776.5 L981.1,776.6 L977.8,776.8 L974.5,777.0 L971.3,777.3 L968.2,777.7 L965.2,778.1 L962.3,778.6 L959.6,779.1 L956.9,779.7 L954.4,780.4 L952.0,781.2 L952.7,785.4 L955.2,785.3 L957.7,785.2 L960.3,785.1 L963.1,784.9 L965.9,784.8 L968.9,784.6 L971.9,784.4 L975.0,784.2 L978.2,784.0 L981.5,783.8 L984.8,783.6 L988.1,783.4 L991.5,783.2 L994.9,783.0 L998.4,782.8 L1001.8,782.7 L1005.3,782.5 L1008.8,782.4 L1012.3,782.3 L1015.7,782.3 L1019.2,782.3 L1022.6,782.3 L1025.9,782.4 L1029.2,782.5 L1032.5,782.6 L1035.7,782.8 L1038.8,782.7 L1041.8,782.9Z" fill="url(#gw)" stroke="#352d0c" stroke-width="1.1" stroke-linejoin="round"/>
<rect x="956.2" y="797.2" width="26.5" height="9.2" rx="2.5" fill="#2e2a18"/>
<circle cx="952.4" cy="795.5" r="2.14" fill="#75661e" stroke="#352d0c" stroke-width="1.1"/>
<path d="M1045.2,791.7 L1042.1,791.4 L1038.9,790.7 L1035.7,790.5 L1032.3,790.3 L1028.9,790.0 L1025.4,789.8 L1021.9,789.6 L1018.3,789.4 L1014.6,789.2 L1011.0,789.0 L1007.3,788.9 L1003.6,788.8 L1000.0,788.7 L996.3,788.6 L992.6,788.6 L989.0,788.6 L985.5,788.7 L981.9,788.8 L978.5,789.0 L975.1,789.2 L971.8,789.5 L968.6,789.9 L965.5,790.3 L962.5,790.8 L959.7,791.3 L956.9,791.9 L954.4,792.6 L952.0,793.4 L952.7,797.6 L955.2,797.5 L957.7,797.4 L960.4,797.2 L963.2,797.1 L966.2,797.0 L969.2,796.8 L972.4,796.6 L975.6,796.4 L978.9,796.2 L982.3,796.0 L985.8,795.8 L989.3,795.6 L992.8,795.4 L996.4,795.2 L1000.0,795.0 L1003.7,794.9 L1007.3,794.7 L1010.9,794.6 L1014.6,794.5 L1018.1,794.5 L1021.7,794.5 L1025.2,794.5 L1028.7,794.6 L1032.1,794.7 L1035.4,794.8 L1038.6,795.0 L1041.8,794.9 L1044.8,795.1Z" fill="url(#gw)" stroke="#352d0c" stroke-width="1.1" stroke-linejoin="round"/>
<rect x="1026.1" y="823.7" width="22.7" height="25.3" fill="url(#gs)"/>
<rect x="956.4" y="831.8" width="26.5" height="9.2" rx="2.5" fill="#2e2a18"/>
<circle cx="952.6" cy="832.1" r="2.12" fill="#75661e" stroke="#352d0c" stroke-width="1.1"/>
<path d="M1042.4,828.9 L1039.4,828.7 L1036.3,828.1 L1033.0,827.9 L1029.8,827.7 L1026.4,827.5 L1023.0,827.3 L1019.6,827.1 L1016.1,826.9 L1012.6,826.7 L1009.1,826.5 L1005.6,826.4 L1002.1,826.3 L998.6,826.1 L995.1,826.1 L991.6,826.0 L988.1,826.0 L984.7,826.0 L981.3,826.1 L978.0,826.2 L974.8,826.4 L971.6,826.6 L968.5,826.9 L965.5,827.3 L962.6,827.7 L959.8,828.2 L957.2,828.7 L954.6,829.3 L952.3,830.0 L952.8,834.2 L955.3,834.3 L957.8,834.3 L960.5,834.2 L963.2,834.2 L966.1,834.1 L969.0,834.0 L972.1,833.9 L975.2,833.8 L978.4,833.6 L981.6,833.5 L984.9,833.3 L988.3,833.1 L991.7,832.9 L995.2,832.8 L998.6,832.6 L1002.1,832.4 L1005.6,832.3 L1009.1,832.2 L1012.6,832.1 L1016.0,832.0 L1019.5,832.0 L1022.9,832.0 L1026.2,832.0 L1029.6,832.1 L1032.8,832.2 L1036.0,832.3 L1039.1,832.1 L1042.2,832.3Z" fill="url(#gw)" stroke="#352d0c" stroke-width="1.1" stroke-linejoin="round"/>
<rect x="956.4" y="846.1" width="26.5" height="9.2" rx="2.5" fill="#2e2a18"/>
<circle cx="952.6" cy="844.1" r="2.12" fill="#75661e" stroke="#352d0c" stroke-width="1.1"/>
<path d="M1045.4,840.9 L1042.4,840.7 L1039.2,840.1 L1035.9,839.9 L1032.6,839.7 L1029.2,839.5 L1025.7,839.3 L1022.1,839.1 L1018.5,838.9 L1014.9,838.7 L1011.2,838.6 L1007.6,838.4 L1003.9,838.3 L1000.2,838.2 L996.6,838.1 L992.9,838.0 L989.3,838.0 L985.7,838.0 L982.2,838.1 L978.8,838.2 L975.4,838.4 L972.1,838.6 L968.9,838.9 L965.8,839.3 L962.8,839.7 L959.9,840.2 L957.2,840.7 L954.7,841.3 L952.3,842.0 L952.8,846.2 L955.3,846.3 L957.8,846.3 L960.5,846.2 L963.4,846.2 L966.3,846.1 L969.4,846.0 L972.5,845.9 L975.8,845.8 L979.1,845.6 L982.5,845.5 L986.0,845.3 L989.5,845.1 L993.1,844.9 L996.7,844.8 L1000.3,844.6 L1003.9,844.4 L1007.6,844.3 L1011.2,844.2 L1014.8,844.1 L1018.4,844.0 L1022.0,844.0 L1025.5,844.0 L1029.0,844.0 L1032.4,844.0 L1035.7,844.2 L1039.0,844.3 L1042.1,844.1 L1045.2,844.3Z" fill="url(#gw)" stroke="#352d0c" stroke-width="1.1" stroke-linejoin="round"/>
<rect x="1026.4" y="873.1" width="22.7" height="25.3" fill="url(#gs)"/>
<rect x="956.5" y="881.0" width="26.5" height="9.2" rx="2.5" fill="#2e2a18"/>
<circle cx="952.8" cy="881.3" r="2.10" fill="#75661e" stroke="#352d0c" stroke-width="1.1"/>
<path d="M1042.7,878.6 L1039.6,878.4 L1036.5,877.9 L1033.3,877.8 L1030.0,877.6 L1026.7,877.4 L1023.3,877.3 L1019.9,877.1 L1016.4,876.9 L1012.9,876.7 L1009.4,876.6 L1005.9,876.4 L1002.3,876.3 L998.8,876.1 L995.3,876.0 L991.8,875.9 L988.4,875.9 L985.0,875.9 L981.6,875.9 L978.3,876.0 L975.1,876.1 L971.9,876.3 L968.8,876.5 L965.8,876.8 L962.9,877.2 L960.1,877.6 L957.5,878.0 L954.9,878.5 L952.6,879.2 L952.9,883.4 L955.4,883.6 L957.9,883.6 L960.6,883.7 L963.3,883.8 L966.2,883.8 L969.2,883.8 L972.2,883.7 L975.3,883.6 L978.5,883.6 L981.8,883.4 L985.1,883.3 L988.5,883.1 L991.9,883.0 L995.4,882.8 L998.9,882.6 L1002.3,882.5 L1005.9,882.3 L1009.4,882.2 L1012.8,882.1 L1016.3,882.0 L1019.8,882.0 L1023.2,881.9 L1026.6,881.9 L1029.9,881.9 L1033.1,882.0 L1036.3,882.1 L1039.5,881.8 L1042.5,882.0Z" fill="url(#gw)" stroke="#352d0c" stroke-width="1.1" stroke-linejoin="round"/>
<rect x="956.5" y="895.3" width="26.5" height="9.2" rx="2.5" fill="#2e2a18"/>
<circle cx="952.8" cy="893.1" r="2.10" fill="#75661e" stroke="#352d0c" stroke-width="1.1"/>
<path d="M1045.7,890.4 L1042.6,890.2 L1039.5,889.7 L1036.2,889.6 L1032.9,889.4 L1029.4,889.2 L1025.9,889.1 L1022.4,888.9 L1018.8,888.7 L1015.2,888.5 L1011.5,888.4 L1007.8,888.2 L1004.2,888.1 L1000.5,887.9 L996.8,887.8 L993.2,887.7 L989.6,887.7 L986.0,887.7 L982.5,887.7 L979.0,887.8 L975.7,887.9 L972.4,888.1 L969.2,888.3 L966.1,888.6 L963.1,889.0 L960.2,889.4 L957.5,889.8 L954.9,890.4 L952.6,891.0 L952.9,895.2 L955.4,895.3 L958.0,895.4 L960.7,895.5 L963.5,895.5 L966.4,895.6 L969.5,895.6 L972.7,895.5 L975.9,895.4 L979.3,895.4 L982.7,895.2 L986.2,895.1 L989.7,894.9 L993.3,894.8 L996.9,894.6 L1000.5,894.4 L1004.2,894.3 L1007.8,894.1 L1011.5,894.0 L1015.1,893.9 L1018.7,893.8 L1022.3,893.7 L1025.8,893.7 L1029.3,893.7 L1032.7,893.7 L1036.1,893.8 L1039.3,893.9 L1042.5,893.6 L1045.5,893.8Z" fill="url(#gw)" stroke="#352d0c" stroke-width="1.1" stroke-linejoin="round"/>
<rect x="1026.7" y="922.5" width="22.7" height="25.3" fill="url(#gs)"/>
<rect x="956.7" y="927.4" width="26.5" height="9.2" rx="2.5" fill="#2e2a18"/>
<circle cx="952.9" cy="930.3" r="2.07" fill="#75661e" stroke="#352d0c" stroke-width="1.1"/>
<path d="M1043.0,927.9 L1039.9,927.8 L1036.8,927.3 L1033.6,927.2 L1030.3,927.0 L1027.0,926.9 L1023.6,926.8 L1020.1,926.6 L1016.7,926.4 L1013.2,926.3 L1009.7,926.1 L1006.1,926.0 L1002.6,925.8 L999.1,925.7 L995.6,925.5 L992.1,925.4 L988.6,925.4 L985.2,925.3 L981.9,925.3 L978.6,925.4 L975.3,925.5 L972.1,925.6 L969.1,925.8 L966.1,926.1 L963.2,926.4 L960.4,926.7 L957.7,927.2 L955.2,927.6 L952.8,928.2 L953.1,932.4 L955.5,932.6 L958.1,932.8 L960.7,932.9 L963.5,932.9 L966.4,933.0 L969.3,933.0 L972.4,933.0 L975.5,933.0 L978.7,932.9 L982.0,932.8 L985.3,932.7 L988.7,932.5 L992.2,932.4 L995.6,932.2 L999.1,932.0 L1002.6,931.9 L1006.1,931.8 L1009.6,931.6 L1013.1,931.5 L1016.6,931.4 L1020.1,931.4 L1023.5,931.3 L1026.9,931.3 L1030.2,931.3 L1033.5,931.4 L1036.7,931.4 L1039.8,931.1 L1042.8,931.3Z" fill="url(#gw)" stroke="#352d0c" stroke-width="1.1" stroke-linejoin="round"/>
<rect x="956.7" y="944.0" width="26.5" height="9.2" rx="2.5" fill="#2e2a18"/>
<circle cx="952.9" cy="942.3" r="2.07" fill="#75661e" stroke="#352d0c" stroke-width="1.1"/>
<path d="M1046.0,939.9 L1042.9,939.8 L1039.7,939.3 L1036.5,939.2 L1033.1,939.0 L1029.7,938.9 L1026.2,938.7 L1022.7,938.6 L1019.1,938.4 L1015.4,938.3 L1011.8,938.1 L1008.1,937.9 L1004.4,937.8 L1000.7,937.7 L997.1,937.5 L993.4,937.4 L989.8,937.3 L986.3,937.3 L982.7,937.3 L979.3,937.3 L975.9,937.4 L972.6,937.6 L969.4,937.8 L966.3,938.1 L963.3,938.4 L960.5,938.7 L957.8,939.2 L955.2,939.6 L952.8,940.2 L953.1,944.4 L955.5,944.6 L958.1,944.7 L960.8,944.8 L963.6,944.9 L966.6,945.0 L969.7,945.0 L972.8,945.0 L976.1,944.9 L979.5,944.9 L982.9,944.8 L986.4,944.6 L989.9,944.5 L993.5,944.3 L997.1,944.2 L1000.8,944.0 L1004.4,943.9 L1008.1,943.7 L1011.7,943.6 L1015.4,943.5 L1019.0,943.4 L1022.6,943.3 L1026.1,943.3 L1029.6,943.3 L1033.0,943.3 L1036.4,943.3 L1039.6,943.4 L1042.8,943.1 L1045.8,943.2Z" fill="url(#gw)" stroke="#352d0c" stroke-width="1.1" stroke-linejoin="round"/>
<rect x="1027.0" y="972.2" width="22.7" height="25.3" fill="url(#gs)"/>
<rect x="956.9" y="974.1" width="26.5" height="9.2" rx="2.5" fill="#2e2a18"/>
<circle cx="953.1" cy="979.6" r="2.05" fill="#75661e" stroke="#352d0c" stroke-width="1.1"/>
<path d="M1043.2,977.5 L1040.2,977.5 L1037.1,977.0 L1033.9,976.9 L1030.6,976.8 L1027.2,976.7 L1023.8,976.5 L1020.4,976.4 L1016.9,976.3 L1013.4,976.1 L1009.9,976.0 L1006.4,975.8 L1002.9,975.7 L999.3,975.5 L995.8,975.4 L992.3,975.3 L988.9,975.2 L985.5,975.1 L982.1,975.1 L978.8,975.1 L975.6,975.1 L972.4,975.2 L969.3,975.4 L966.3,975.6 L963.4,975.9 L960.6,976.2 L958.0,976.6 L955.4,977.0 L953.0,977.6 L953.2,981.7 L955.7,982.0 L958.2,982.2 L960.9,982.3 L963.6,982.4 L966.5,982.5 L969.5,982.6 L972.6,982.6 L975.7,982.6 L978.9,982.5 L982.2,982.4 L985.6,982.3 L989.0,982.2 L992.4,982.0 L995.9,981.9 L999.4,981.7 L1002.9,981.6 L1006.4,981.5 L1009.9,981.3 L1013.4,981.2 L1016.9,981.1 L1020.4,981.1 L1023.8,981.0 L1027.2,981.0 L1030.5,981.0 L1033.8,981.0 L1037.0,981.1 L1040.1,980.7 L1043.2,980.8Z" fill="url(#gw)" stroke="#352d0c" stroke-width="1.1" stroke-linejoin="round"/>
<rect x="956.9" y="993.1" width="26.5" height="9.2" rx="2.5" fill="#2e2a18"/>
<circle cx="953.1" cy="991.8" r="2.05" fill="#75661e" stroke="#352d0c" stroke-width="1.1"/>
<path d="M1046.2,989.7 L1043.2,989.6 L1040.0,989.1 L1036.8,989.1 L1033.4,989.0 L1030.0,988.8 L1026.5,988.7 L1022.9,988.6 L1019.3,988.4 L1015.7,988.3 L1012.0,988.1 L1008.4,988.0 L1004.7,987.8 L1001.0,987.7 L997.3,987.5 L993.7,987.4 L990.1,987.3 L986.5,987.3 L983.0,987.2 L979.5,987.2 L976.2,987.3 L972.9,987.4 L969.7,987.6 L966.6,987.8 L963.6,988.1 L960.7,988.4 L958.0,988.8 L955.4,989.2 L953.0,989.7 L953.2,993.8 L955.7,994.1 L958.2,994.3 L961.0,994.5 L963.8,994.6 L966.8,994.7 L969.8,994.7 L973.0,994.8 L976.3,994.7 L979.7,994.7 L983.1,994.6 L986.6,994.5 L990.1,994.4 L993.7,994.2 L997.4,994.1 L1001.0,993.9 L1004.7,993.8 L1008.4,993.6 L1012.0,993.5 L1015.7,993.4 L1019.3,993.3 L1022.9,993.2 L1026.4,993.2 L1029.9,993.1 L1033.3,993.1 L1036.7,993.2 L1039.9,993.2 L1043.1,992.9 L1046.2,993.0Z" fill="url(#gw)" stroke="#352d0c" stroke-width="1.1" stroke-linejoin="round"/>
<rect x="1027.3" y="1021.7" width="22.7" height="25.3" fill="url(#gs)"/>
<rect x="957.1" y="1020.6" width="26.5" height="9.2" rx="2.5" fill="#2e2a18"/>
<circle cx="953.3" cy="1028.8" r="2.02" fill="#75661e" stroke="#352d0c" stroke-width="1.1"/>
<path d="M1043.5,1027.0 L1040.5,1026.9 L1037.4,1026.5 L1034.1,1026.4 L1030.9,1026.3 L1027.5,1026.2 L1024.1,1026.1 L1020.7,1026.0 L1017.2,1025.9 L1013.7,1025.7 L1010.2,1025.6 L1006.7,1025.4 L1003.1,1025.3 L999.6,1025.1 L996.1,1025.0 L992.6,1024.9 L989.1,1024.8 L985.7,1024.7 L982.4,1024.6 L979.1,1024.6 L975.8,1024.6 L972.6,1024.7 L969.6,1024.8 L966.6,1025.0 L963.7,1025.2 L960.9,1025.5 L958.2,1025.8 L955.7,1026.2 L953.3,1026.7 L953.4,1030.8 L955.8,1031.1 L958.4,1031.4 L961.0,1031.6 L963.8,1031.7 L966.7,1031.9 L969.7,1031.9 L972.7,1032.0 L975.9,1032.0 L979.1,1031.9 L982.4,1031.9 L985.8,1031.8 L989.2,1031.7 L992.6,1031.5 L996.1,1031.4 L999.6,1031.3 L1003.1,1031.1 L1006.6,1031.0 L1010.2,1030.9 L1013.7,1030.7 L1017.2,1030.7 L1020.6,1030.6 L1024.1,1030.5 L1027.5,1030.5 L1030.8,1030.5 L1034.1,1030.5 L1037.3,1030.5 L1040.4,1030.1 L1043.5,1030.2Z" fill="url(#gw)" stroke="#352d0c" stroke-width="1.1" stroke-linejoin="round"/>
<rect x="957.1" y="1042.0" width="26.5" height="9.2" rx="2.5" fill="#2e2a18"/>
<circle cx="953.3" cy="1041.1" r="2.02" fill="#75661e" stroke="#352d0c" stroke-width="1.1"/>
<path d="M1046.5,1039.3 L1043.5,1039.3 L1040.3,1038.8 L1037.0,1038.8 L1033.7,1038.7 L1030.3,1038.6 L1026.8,1038.5 L1023.2,1038.4 L1019.6,1038.2 L1016.0,1038.1 L1012.3,1038.0 L1008.6,1037.8 L1004.9,1037.6 L1001.3,1037.5 L997.6,1037.3 L993.9,1037.2 L990.3,1037.1 L986.8,1037.0 L983.2,1037.0 L979.8,1036.9 L976.4,1037.0 L973.1,1037.0 L969.9,1037.2 L966.8,1037.3 L963.8,1037.6 L961.0,1037.9 L958.3,1038.2 L955.7,1038.6 L953.3,1039.1 L953.4,1043.1 L955.8,1043.5 L958.4,1043.7 L961.1,1043.9 L964.0,1044.1 L966.9,1044.2 L970.0,1044.3 L973.2,1044.3 L976.5,1044.3 L979.8,1044.3 L983.3,1044.2 L986.8,1044.1 L990.4,1044.0 L994.0,1043.9 L997.6,1043.7 L1001.3,1043.6 L1004.9,1043.5 L1008.6,1043.3 L1012.3,1043.2 L1016.0,1043.1 L1019.6,1043.0 L1023.2,1042.9 L1026.7,1042.9 L1030.2,1042.8 L1033.6,1042.8 L1037.0,1042.8 L1040.2,1042.8 L1043.4,1042.5 L1046.5,1042.5Z" fill="url(#gw)" stroke="#352d0c" stroke-width="1.1" stroke-linejoin="round"/>
<rect x="1027.6" y="1071.5" width="22.7" height="25.3" fill="url(#gs)"/>
<rect x="957.3" y="1069.9" width="26.5" height="9.2" rx="2.5" fill="#2e2a18"/>
<circle cx="953.5" cy="1078.2" r="1.99" fill="#75661e" stroke="#352d0c" stroke-width="1.1"/>
<path d="M1043.8,1076.7 L1040.8,1076.7 L1037.6,1076.2 L1034.4,1076.2 L1031.1,1076.2 L1027.8,1076.1 L1024.4,1076.0 L1021.0,1075.9 L1017.5,1075.8 L1014.0,1075.7 L1010.5,1075.5 L1006.9,1075.4 L1003.4,1075.2 L999.9,1075.1 L996.3,1074.9 L992.9,1074.8 L989.4,1074.7 L986.0,1074.5 L982.6,1074.5 L979.3,1074.4 L976.1,1074.4 L972.9,1074.4 L969.8,1074.5 L966.8,1074.7 L963.9,1074.8 L961.1,1075.1 L958.5,1075.4 L955.9,1075.7 L953.5,1076.2 L953.6,1080.2 L956.0,1080.6 L958.5,1080.9 L961.2,1081.1 L963.9,1081.3 L966.8,1081.5 L969.8,1081.6 L972.9,1081.7 L976.1,1081.7 L979.3,1081.7 L982.6,1081.6 L986.0,1081.5 L989.4,1081.4 L992.8,1081.3 L996.3,1081.2 L999.8,1081.1 L1003.4,1080.9 L1006.9,1080.8 L1010.4,1080.7 L1014.0,1080.6 L1017.5,1080.5 L1020.9,1080.4 L1024.4,1080.3 L1027.8,1080.3 L1031.1,1080.2 L1034.4,1080.2 L1037.6,1080.2 L1040.7,1079.8 L1043.8,1079.9Z" fill="url(#gw)" stroke="#352d0c" stroke-width="1.1" stroke-linejoin="round"/>
<rect x="957.3" y="1089.7" width="26.5" height="9.2" rx="2.5" fill="#2e2a18"/>
<circle cx="953.5" cy="1090.7" r="1.99" fill="#75661e" stroke="#352d0c" stroke-width="1.1"/>
<path d="M1046.8,1089.2 L1043.8,1089.2 L1040.6,1088.8 L1037.3,1088.7 L1034.0,1088.7 L1030.5,1088.6 L1027.0,1088.5 L1023.5,1088.4 L1019.9,1088.3 L1016.2,1088.2 L1012.6,1088.1 L1008.9,1087.9 L1005.2,1087.8 L1001.5,1087.6 L997.8,1087.5 L994.2,1087.3 L990.6,1087.2 L987.0,1087.1 L983.5,1087.0 L980.0,1086.9 L976.7,1086.9 L973.4,1087.0 L970.2,1087.1 L967.1,1087.2 L964.1,1087.4 L961.2,1087.6 L958.5,1087.9 L955.9,1088.3 L953.5,1088.7 L953.6,1092.7 L956.0,1093.1 L958.5,1093.4 L961.3,1093.6 L964.1,1093.8 L967.1,1094.0 L970.2,1094.1 L973.4,1094.2 L976.7,1094.2 L980.0,1094.2 L983.5,1094.2 L987.0,1094.1 L990.6,1094.0 L994.2,1093.8 L997.8,1093.7 L1001.5,1093.6 L1005.2,1093.4 L1008.9,1093.3 L1012.6,1093.2 L1016.2,1093.1 L1019.9,1093.0 L1023.5,1092.9 L1027.0,1092.8 L1030.5,1092.8 L1034.0,1092.8 L1037.3,1092.7 L1040.6,1092.8 L1043.7,1092.4 L1046.8,1092.4Z" fill="url(#gw)" stroke="#352d0c" stroke-width="1.1" stroke-linejoin="round"/>
<rect x="1027.9" y="1121.2" width="22.7" height="25.3" fill="url(#gs)"/>
<rect x="957.5" y="1119.1" width="26.5" height="9.2" rx="2.5" fill="#2e2a18"/>
<circle cx="953.7" cy="1127.5" r="1.96" fill="#75661e" stroke="#352d0c" stroke-width="1.1"/>
<path d="M1044.1,1126.3 L1041.0,1126.3 L1037.9,1125.9 L1034.7,1125.9 L1031.4,1125.9 L1028.1,1125.9 L1024.7,1125.8 L1021.2,1125.7 L1017.8,1125.6 L1014.3,1125.5 L1010.7,1125.4 L1007.2,1125.2 L1003.7,1125.1 L1000.1,1124.9 L996.6,1124.8 L993.1,1124.6 L989.7,1124.4 L986.2,1124.3 L982.9,1124.2 L979.6,1124.1 L976.3,1124.1 L973.1,1124.1 L970.0,1124.1 L967.1,1124.2 L964.2,1124.4 L961.4,1124.6 L958.7,1124.8 L956.2,1125.1 L953.7,1125.5 L953.7,1129.5 L956.1,1129.9 L958.7,1130.3 L961.3,1130.6 L964.1,1130.8 L967.0,1131.0 L970.0,1131.2 L973.1,1131.3 L976.3,1131.3 L979.5,1131.3 L982.8,1131.3 L986.2,1131.2 L989.6,1131.1 L993.1,1131.0 L996.6,1130.9 L1000.1,1130.8 L1003.6,1130.6 L1007.2,1130.5 L1010.7,1130.4 L1014.2,1130.3 L1017.7,1130.2 L1021.2,1130.1 L1024.7,1130.0 L1028.1,1130.0 L1031.4,1129.9 L1034.7,1129.9 L1037.9,1129.9 L1041.1,1129.4 L1044.1,1129.4Z" fill="url(#gw)" stroke="#352d0c" stroke-width="1.1" stroke-linejoin="round"/>
<rect x="957.5" y="1137.4" width="26.5" height="9.2" rx="2.5" fill="#2e2a18"/>
<circle cx="953.7" cy="1140.2" r="1.96" fill="#75661e" stroke="#352d0c" stroke-width="1.1"/>
<path d="M1047.1,1139.0 L1044.0,1139.0 L1040.9,1138.6 L1037.6,1138.6 L1034.3,1138.6 L1030.8,1138.6 L1027.3,1138.5 L1023.8,1138.4 L1020.2,1138.3 L1016.5,1138.2 L1012.8,1138.1 L1009.2,1137.9 L1005.5,1137.8 L1001.8,1137.6 L998.1,1137.5 L994.5,1137.3 L990.8,1137.2 L987.3,1137.0 L983.7,1136.9 L980.3,1136.8 L976.9,1136.8 L973.6,1136.8 L970.4,1136.8 L967.3,1136.9 L964.3,1137.1 L961.5,1137.3 L958.7,1137.5 L956.2,1137.8 L953.7,1138.2 L953.7,1142.2 L956.1,1142.6 L958.7,1143.0 L961.4,1143.3 L964.3,1143.5 L967.2,1143.7 L970.3,1143.9 L973.5,1144.0 L976.8,1144.0 L980.2,1144.0 L983.7,1144.0 L987.2,1143.9 L990.8,1143.8 L994.4,1143.7 L998.1,1143.6 L1001.8,1143.5 L1005.4,1143.3 L1009.1,1143.2 L1012.8,1143.1 L1016.5,1143.0 L1020.2,1142.9 L1023.8,1142.8 L1027.3,1142.7 L1030.8,1142.7 L1034.3,1142.6 L1037.6,1142.6 L1040.9,1142.6 L1044.1,1142.1 L1047.1,1142.1Z" fill="url(#gw)" stroke="#352d0c" stroke-width="1.1" stroke-linejoin="round"/>
<rect x="1028.2" y="1170.7" width="22.7" height="25.3" fill="url(#gs)"/>
<rect x="957.7" y="1168.1" width="26.5" height="9.2" rx="2.5" fill="#2e2a18"/>
<circle cx="953.9" cy="1176.6" r="1.94" fill="#75661e" stroke="#352d0c" stroke-width="1.1"/>
<path d="M1044.4,1175.7 L1041.3,1175.8 L1038.2,1175.4 L1035.0,1175.4 L1031.7,1175.4 L1028.4,1175.4 L1025.0,1175.4 L1021.5,1175.3 L1018.0,1175.2 L1014.5,1175.1 L1011.0,1175.0 L1007.5,1174.9 L1003.9,1174.7 L1000.4,1174.6 L996.9,1174.4 L993.4,1174.2 L989.9,1174.0 L986.5,1173.9 L983.1,1173.7 L979.8,1173.6 L976.6,1173.6 L973.4,1173.5 L970.3,1173.5 L967.3,1173.6 L964.4,1173.7 L961.6,1173.9 L958.9,1174.1 L956.4,1174.3 L954.0,1174.7 L953.9,1178.6 L956.3,1179.1 L958.8,1179.5 L961.5,1179.8 L964.3,1180.1 L967.2,1180.3 L970.2,1180.5 L973.3,1180.6 L976.4,1180.7 L979.7,1180.7 L983.0,1180.7 L986.4,1180.7 L989.8,1180.6 L993.3,1180.5 L996.8,1180.4 L1000.3,1180.3 L1003.9,1180.2 L1007.4,1180.0 L1011.0,1179.9 L1014.5,1179.8 L1018.0,1179.7 L1021.5,1179.6 L1025.0,1179.5 L1028.4,1179.4 L1031.7,1179.4 L1035.0,1179.3 L1038.2,1179.3 L1041.4,1178.8 L1044.4,1178.8Z" fill="url(#gw)" stroke="#352d0c" stroke-width="1.1" stroke-linejoin="round"/>
<rect x="957.7" y="1184.9" width="26.5" height="9.2" rx="2.5" fill="#2e2a18"/>
<circle cx="953.9" cy="1189.5" r="1.94" fill="#75661e" stroke="#352d0c" stroke-width="1.1"/>
<path d="M1047.4,1188.6 L1044.3,1188.7 L1041.1,1188.3 L1037.9,1188.3 L1034.5,1188.3 L1031.1,1188.3 L1027.6,1188.3 L1024.0,1188.2 L1020.4,1188.1 L1016.8,1188.0 L1013.1,1187.9 L1009.4,1187.8 L1005.7,1187.6 L1002.0,1187.4 L998.4,1187.3 L994.7,1187.1 L991.1,1186.9 L987.5,1186.8 L984.0,1186.6 L980.5,1186.5 L977.1,1186.4 L973.8,1186.4 L970.6,1186.4 L967.5,1186.5 L964.6,1186.6 L961.7,1186.8 L959.0,1187.0 L956.4,1187.2 L954.0,1187.6 L953.9,1191.4 L956.3,1192.0 L958.8,1192.4 L961.6,1192.7 L964.4,1193.0 L967.4,1193.2 L970.5,1193.4 L973.7,1193.5 L977.0,1193.6 L980.4,1193.6 L983.9,1193.6 L987.4,1193.6 L991.0,1193.5 L994.6,1193.4 L998.3,1193.3 L1002.0,1193.2 L1005.7,1193.0 L1009.4,1192.9 L1013.1,1192.8 L1016.8,1192.7 L1020.4,1192.6 L1024.1,1192.5 L1027.6,1192.4 L1031.1,1192.3 L1034.6,1192.3 L1037.9,1192.2 L1041.2,1192.2 L1044.4,1191.7 L1047.4,1191.7Z" fill="url(#gw)" stroke="#352d0c" stroke-width="1.1" stroke-linejoin="round"/>
<rect x="1028.5" y="1220.1" width="22.7" height="25.3" fill="url(#gs)"/>
<rect x="957.9" y="1217.0" width="26.5" height="9.2" rx="2.5" fill="#2e2a18"/>
<circle cx="954.1" cy="1225.6" r="1.91" fill="#75661e" stroke="#352d0c" stroke-width="1.1"/>
<path d="M1044.7,1225.0 L1041.6,1225.1 L1038.5,1224.8 L1035.3,1224.9 L1032.0,1224.9 L1028.6,1224.9 L1025.2,1224.9 L1021.8,1224.8 L1018.3,1224.8 L1014.8,1224.7 L1011.3,1224.5 L1007.7,1224.4 L1004.2,1224.3 L1000.6,1224.1 L997.1,1223.9 L993.6,1223.7 L990.2,1223.5 L986.7,1223.4 L983.4,1223.2 L980.0,1223.0 L976.8,1222.9 L973.6,1222.9 L970.5,1222.8 L967.5,1222.9 L964.6,1222.9 L961.9,1223.0 L959.2,1223.2 L956.6,1223.4 L954.2,1223.7 L954.0,1227.6 L956.4,1228.1 L958.9,1228.6 L961.6,1229.0 L964.4,1229.3 L967.3,1229.6 L970.3,1229.8 L973.4,1229.9 L976.6,1230.0 L979.9,1230.1 L983.2,1230.1 L986.6,1230.0 L990.1,1230.0 L993.5,1229.9 L997.1,1229.8 L1000.6,1229.7 L1004.1,1229.6 L1007.7,1229.5 L1011.3,1229.3 L1014.8,1229.2 L1018.3,1229.1 L1021.8,1229.0 L1025.3,1228.9 L1028.7,1228.8 L1032.0,1228.8 L1035.3,1228.7 L1038.6,1228.6 L1041.7,1228.1 L1044.7,1228.0Z" fill="url(#gw)" stroke="#352d0c" stroke-width="1.1" stroke-linejoin="round"/>
<rect x="957.9" y="1232.3" width="26.5" height="9.2" rx="2.5" fill="#2e2a18"/>
<circle cx="954.1" cy="1238.7" r="1.91" fill="#75661e" stroke="#352d0c" stroke-width="1.1"/>
<path d="M1047.7,1238.1 L1044.6,1238.2 L1041.4,1237.9 L1038.2,1237.9 L1034.8,1238.0 L1031.4,1238.0 L1027.9,1237.9 L1024.3,1237.9 L1020.7,1237.8 L1017.1,1237.7 L1013.4,1237.6 L1009.7,1237.5 L1006.0,1237.3 L1002.3,1237.2 L998.6,1237.0 L995.0,1236.8 L991.3,1236.6 L987.8,1236.4 L984.2,1236.3 L980.8,1236.1 L977.4,1236.0 L974.1,1235.9 L970.9,1235.9 L967.8,1235.9 L964.8,1236.0 L962.0,1236.1 L959.2,1236.3 L956.6,1236.5 L954.2,1236.8 L954.0,1240.6 L956.4,1241.2 L959.0,1241.6 L961.7,1242.0 L964.6,1242.3 L967.6,1242.6 L970.7,1242.8 L973.9,1243.0 L977.2,1243.1 L980.6,1243.1 L984.1,1243.1 L987.6,1243.1 L991.2,1243.0 L994.9,1243.0 L998.6,1242.9 L1002.2,1242.8 L1006.0,1242.6 L1009.7,1242.5 L1013.4,1242.4 L1017.1,1242.3 L1020.7,1242.2 L1024.3,1242.1 L1027.9,1242.0 L1031.4,1241.9 L1034.9,1241.8 L1038.2,1241.8 L1041.5,1241.7 L1044.7,1241.2 L1047.7,1241.1Z" fill="url(#gw)" stroke="#352d0c" stroke-width="1.1" stroke-linejoin="round"/>
<rect x="1028.8" y="1269.9" width="22.7" height="25.3" fill="url(#gs)"/>
<rect x="958.1" y="1266.3" width="26.5" height="9.2" rx="2.5" fill="#2e2a18"/>
<circle cx="954.3" cy="1275.1" r="1.88" fill="#75661e" stroke="#352d0c" stroke-width="1.1"/>
<path d="M1044.9,1274.7 L1041.9,1274.9 L1038.8,1274.6 L1035.5,1274.7 L1032.3,1274.7 L1028.9,1274.7 L1025.5,1274.7 L1022.1,1274.7 L1018.6,1274.7 L1015.1,1274.6 L1011.5,1274.5 L1008.0,1274.3 L1004.4,1274.2 L1000.9,1274.0 L997.4,1273.8 L993.9,1273.6 L990.4,1273.4 L987.0,1273.2 L983.6,1273.0 L980.3,1272.9 L977.0,1272.7 L973.9,1272.6 L970.8,1272.5 L967.8,1272.5 L964.9,1272.5 L962.1,1272.6 L959.4,1272.7 L956.9,1272.9 L954.4,1273.2 L954.2,1276.9 L956.6,1277.6 L959.1,1278.1 L961.8,1278.5 L964.6,1278.9 L967.5,1279.2 L970.5,1279.4 L973.6,1279.6 L976.8,1279.7 L980.1,1279.8 L983.4,1279.8 L986.8,1279.8 L990.3,1279.8 L993.8,1279.7 L997.3,1279.6 L1000.8,1279.5 L1004.4,1279.4 L1008.0,1279.3 L1011.5,1279.2 L1015.1,1279.1 L1018.6,1278.9 L1022.1,1278.8 L1025.6,1278.7 L1029.0,1278.6 L1032.3,1278.5 L1035.6,1278.4 L1038.9,1278.3 L1042.0,1277.8 L1045.1,1277.7Z" fill="url(#gw)" stroke="#352d0c" stroke-width="1.1" stroke-linejoin="round"/>
<rect x="958.1" y="1281.5" width="26.5" height="9.2" rx="2.5" fill="#2e2a18"/>
<circle cx="954.3" cy="1288.3" r="1.88" fill="#75661e" stroke="#352d0c" stroke-width="1.1"/>
<path d="M1047.9,1288.0 L1044.9,1288.1 L1041.7,1287.8 L1038.5,1287.9 L1035.1,1288.0 L1031.7,1288.0 L1028.2,1288.0 L1024.6,1288.0 L1021.0,1287.9 L1017.3,1287.8 L1013.7,1287.7 L1010.0,1287.6 L1006.3,1287.5 L1002.6,1287.3 L998.9,1287.1 L995.2,1286.9 L991.6,1286.7 L988.0,1286.5 L984.5,1286.3 L981.0,1286.1 L977.6,1286.0 L974.3,1285.9 L971.1,1285.8 L968.0,1285.8 L965.1,1285.8 L962.2,1285.9 L959.5,1286.0 L956.9,1286.2 L954.4,1286.4 L954.2,1290.2 L956.6,1290.8 L959.1,1291.3 L961.9,1291.7 L964.7,1292.1 L967.7,1292.4 L970.9,1292.7 L974.1,1292.9 L977.4,1293.0 L980.8,1293.1 L984.3,1293.1 L987.9,1293.1 L991.5,1293.0 L995.1,1292.9 L998.8,1292.8 L1002.5,1292.7 L1006.2,1292.6 L1009.9,1292.5 L1013.6,1292.4 L1017.3,1292.3 L1021.0,1292.2 L1024.6,1292.1 L1028.2,1292.0 L1031.7,1291.9 L1035.2,1291.8 L1038.5,1291.7 L1041.8,1291.6 L1045.0,1291.1 L1048.1,1291.0Z" fill="url(#gw)" stroke="#352d0c" stroke-width="1.1" stroke-linejoin="round"/>
<rect x="1029.1" y="1319.7" width="22.7" height="25.3" fill="url(#gs)"/>
<rect x="958.3" y="1315.6" width="26.5" height="9.2" rx="2.5" fill="#2e2a18"/>
<circle cx="954.5" cy="1324.5" r="1.85" fill="#75661e" stroke="#352d0c" stroke-width="1.1"/>
<path d="M1045.2,1324.5 L1042.2,1324.6 L1039.0,1324.4 L1035.8,1324.5 L1032.5,1324.6 L1029.2,1324.6 L1025.8,1324.6 L1022.3,1324.6 L1018.9,1324.6 L1015.3,1324.5 L1011.8,1324.4 L1008.2,1324.3 L1004.7,1324.1 L1001.2,1323.9 L997.6,1323.8 L994.1,1323.5 L990.7,1323.3 L987.2,1323.1 L983.9,1322.9 L980.5,1322.7 L977.3,1322.5 L974.1,1322.4 L971.0,1322.3 L968.0,1322.2 L965.1,1322.2 L962.3,1322.2 L959.7,1322.3 L957.1,1322.4 L954.7,1322.6 L954.3,1326.3 L956.7,1327.0 L959.3,1327.6 L961.9,1328.1 L964.7,1328.5 L967.6,1328.8 L970.7,1329.1 L973.8,1329.3 L977.0,1329.4 L980.3,1329.5 L983.6,1329.6 L987.0,1329.6 L990.5,1329.5 L994.0,1329.5 L997.5,1329.4 L1001.1,1329.3 L1004.7,1329.2 L1008.2,1329.1 L1011.8,1329.0 L1015.4,1328.9 L1018.9,1328.8 L1022.4,1328.7 L1025.9,1328.5 L1029.3,1328.4 L1032.7,1328.3 L1036.0,1328.2 L1039.2,1328.1 L1042.3,1327.5 L1045.4,1327.4Z" fill="url(#gw)" stroke="#352d0c" stroke-width="1.1" stroke-linejoin="round"/>
<rect x="958.3" y="1330.7" width="26.5" height="9.2" rx="2.5" fill="#2e2a18"/>
<circle cx="954.5" cy="1337.9" r="1.85" fill="#75661e" stroke="#352d0c" stroke-width="1.1"/>
<path d="M1048.2,1337.9 L1045.2,1338.1 L1042.0,1337.8 L1038.7,1337.9 L1035.4,1338.0 L1031.9,1338.0 L1028.4,1338.1 L1024.9,1338.1 L1021.3,1338.0 L1017.6,1338.0 L1013.9,1337.9 L1010.2,1337.7 L1006.5,1337.6 L1002.8,1337.4 L999.1,1337.2 L995.5,1337.0 L991.8,1336.8 L988.3,1336.5 L984.7,1336.3 L981.3,1336.1 L977.9,1335.9 L974.6,1335.8 L971.4,1335.7 L968.3,1335.6 L965.3,1335.6 L962.4,1335.7 L959.7,1335.7 L957.1,1335.8 L954.7,1336.1 L954.3,1339.8 L956.7,1340.5 L959.3,1341.0 L962.0,1341.5 L964.9,1341.9 L967.9,1342.2 L971.0,1342.5 L974.3,1342.7 L977.6,1342.9 L981.0,1343.0 L984.5,1343.0 L988.1,1343.0 L991.7,1343.0 L995.3,1342.9 L999.0,1342.8 L1002.7,1342.7 L1006.5,1342.6 L1010.2,1342.5 L1013.9,1342.4 L1017.6,1342.3 L1021.3,1342.2 L1024.9,1342.1 L1028.5,1342.0 L1032.0,1341.9 L1035.5,1341.7 L1038.9,1341.6 L1042.1,1341.5 L1045.3,1341.0 L1048.4,1340.8Z" fill="url(#gw)" stroke="#352d0c" stroke-width="1.1" stroke-linejoin="round"/>
<rect x="1029.4" y="1369.5" width="22.7" height="25.3" fill="url(#gs)"/>
<rect x="958.5" y="1364.9" width="26.5" height="9.2" rx="2.5" fill="#2e2a18"/>
<circle cx="954.7" cy="1373.9" r="1.83" fill="#75661e" stroke="#352d0c" stroke-width="1.1"/>
<path d="M1045.5,1374.2 L1042.5,1374.4 L1039.3,1374.1 L1036.1,1374.3 L1032.8,1374.4 L1029.5,1374.5 L1026.1,1374.5 L1022.6,1374.5 L1019.1,1374.5 L1015.6,1374.4 L1012.1,1374.3 L1008.5,1374.2 L1005.0,1374.1 L1001.4,1373.9 L997.9,1373.7 L994.4,1373.5 L990.9,1373.2 L987.5,1373.0 L984.1,1372.7 L980.8,1372.5 L977.5,1372.3 L974.4,1372.1 L971.3,1372.0 L968.3,1371.9 L965.4,1371.8 L962.6,1371.8 L959.9,1371.8 L957.4,1371.9 L954.9,1372.1 L954.5,1375.7 L956.9,1376.5 L959.4,1377.1 L962.1,1377.6 L964.9,1378.0 L967.8,1378.4 L970.8,1378.7 L974.0,1379.0 L977.2,1379.1 L980.5,1379.2 L983.8,1379.3 L987.3,1379.3 L990.7,1379.3 L994.2,1379.3 L997.8,1379.2 L1001.3,1379.1 L1004.9,1379.0 L1008.5,1378.9 L1012.1,1378.8 L1015.6,1378.7 L1019.2,1378.6 L1022.7,1378.5 L1026.2,1378.4 L1029.6,1378.2 L1033.0,1378.1 L1036.3,1377.9 L1039.5,1377.8 L1042.6,1377.2 L1045.7,1377.0Z" fill="url(#gw)" stroke="#352d0c" stroke-width="1.1" stroke-linejoin="round"/>
<rect x="958.5" y="1379.9" width="26.5" height="9.2" rx="2.5" fill="#2e2a18"/>
<circle cx="954.7" cy="1387.5" r="1.83" fill="#75661e" stroke="#352d0c" stroke-width="1.1"/>
<path d="M1048.5,1387.8 L1045.5,1388.0 L1042.3,1387.8 L1039.0,1387.9 L1035.7,1388.0 L1032.2,1388.1 L1028.7,1388.1 L1025.2,1388.1 L1021.5,1388.1 L1017.9,1388.1 L1014.2,1388.0 L1010.5,1387.8 L1006.8,1387.7 L1003.1,1387.5 L999.4,1387.3 L995.7,1387.1 L992.1,1386.8 L988.5,1386.6 L985.0,1386.3 L981.5,1386.1 L978.1,1385.9 L974.8,1385.7 L971.6,1385.6 L968.5,1385.5 L965.5,1385.4 L962.7,1385.4 L960.0,1385.5 L957.4,1385.5 L954.9,1385.7 L954.5,1389.4 L956.9,1390.1 L959.5,1390.7 L962.2,1391.2 L965.1,1391.7 L968.1,1392.0 L971.2,1392.3 L974.4,1392.6 L977.8,1392.8 L981.2,1392.9 L984.7,1392.9 L988.3,1392.9 L991.9,1392.9 L995.6,1392.9 L999.3,1392.8 L1003.0,1392.7 L1006.7,1392.6 L1010.5,1392.5 L1014.2,1392.4 L1017.9,1392.3 L1021.6,1392.2 L1025.2,1392.1 L1028.8,1392.0 L1032.3,1391.8 L1035.8,1391.7 L1039.2,1391.6 L1042.5,1391.4 L1045.6,1390.8 L1048.7,1390.7Z" fill="url(#gw)" stroke="#352d0c" stroke-width="1.1" stroke-linejoin="round"/>
<rect x="1029.7" y="1419.9" width="22.7" height="25.3" fill="url(#gs)"/>
<rect x="958.7" y="1414.8" width="26.5" height="9.2" rx="2.5" fill="#2e2a18"/>
<circle cx="954.9" cy="1423.9" r="1.80" fill="#75661e" stroke="#352d0c" stroke-width="1.1"/>
<path d="M1045.8,1424.5 L1042.8,1424.7 L1039.6,1424.5 L1036.4,1424.7 L1033.1,1424.8 L1029.8,1424.9 L1026.4,1425.0 L1022.9,1425.0 L1019.4,1425.0 L1015.9,1425.0 L1012.3,1424.9 L1008.8,1424.7 L1005.2,1424.6 L1001.7,1424.4 L998.1,1424.2 L994.6,1424.0 L991.2,1423.7 L987.7,1423.4 L984.3,1423.2 L981.0,1422.9 L977.8,1422.7 L974.6,1422.5 L971.5,1422.3 L968.5,1422.1 L965.6,1422.0 L962.8,1422.0 L960.2,1422.0 L957.6,1422.0 L955.1,1422.2 L954.7,1425.7 L957.0,1426.5 L959.6,1427.2 L962.2,1427.7 L965.0,1428.2 L968.0,1428.6 L971.0,1429.0 L974.1,1429.2 L977.4,1429.4 L980.7,1429.6 L984.0,1429.7 L987.5,1429.7 L990.9,1429.7 L994.5,1429.7 L998.0,1429.6 L1001.6,1429.5 L1005.2,1429.4 L1008.8,1429.4 L1012.3,1429.3 L1015.9,1429.1 L1019.5,1429.0 L1023.0,1428.9 L1026.5,1428.8 L1029.9,1428.6 L1033.3,1428.5 L1036.6,1428.3 L1039.8,1428.1 L1042.9,1427.5 L1046.0,1427.3Z" fill="url(#gw)" stroke="#352d0c" stroke-width="1.1" stroke-linejoin="round"/>
<rect x="958.7" y="1429.8" width="26.5" height="9.2" rx="2.5" fill="#2e2a18"/>
<circle cx="954.9" cy="1437.7" r="1.80" fill="#75661e" stroke="#352d0c" stroke-width="1.1"/>
<path d="M1048.8,1438.3 L1045.7,1438.5 L1042.6,1438.3 L1039.3,1438.5 L1035.9,1438.6 L1032.5,1438.7 L1029.0,1438.8 L1025.4,1438.8 L1021.8,1438.8 L1018.1,1438.8 L1014.5,1438.7 L1010.8,1438.6 L1007.0,1438.4 L1003.3,1438.2 L999.6,1438.0 L996.0,1437.8 L992.3,1437.5 L988.7,1437.2 L985.2,1437.0 L981.8,1436.7 L978.4,1436.5 L975.1,1436.3 L971.9,1436.1 L968.8,1435.9 L965.8,1435.8 L962.9,1435.8 L960.2,1435.8 L957.6,1435.8 L955.1,1436.0 L954.7,1439.5 L957.0,1440.3 L959.6,1441.0 L962.3,1441.5 L965.2,1442.0 L968.2,1442.4 L971.4,1442.8 L974.6,1443.0 L978.0,1443.2 L981.4,1443.4 L984.9,1443.5 L988.5,1443.5 L992.1,1443.5 L995.8,1443.5 L999.5,1443.4 L1003.2,1443.3 L1007.0,1443.2 L1010.7,1443.1 L1014.5,1443.0 L1018.2,1442.9 L1021.9,1442.8 L1025.5,1442.7 L1029.1,1442.6 L1032.6,1442.4 L1036.1,1442.3 L1039.5,1442.1 L1042.8,1441.9 L1045.9,1441.3 L1049.0,1441.1Z" fill="url(#gw)" stroke="#352d0c" stroke-width="1.1" stroke-linejoin="round"/>
<rect x="101.1" y="312.5" width="1798.15" height="1151.85" fill="none" stroke="#666" stroke-width="1.35"/>
</svg>
</div></body></html>
